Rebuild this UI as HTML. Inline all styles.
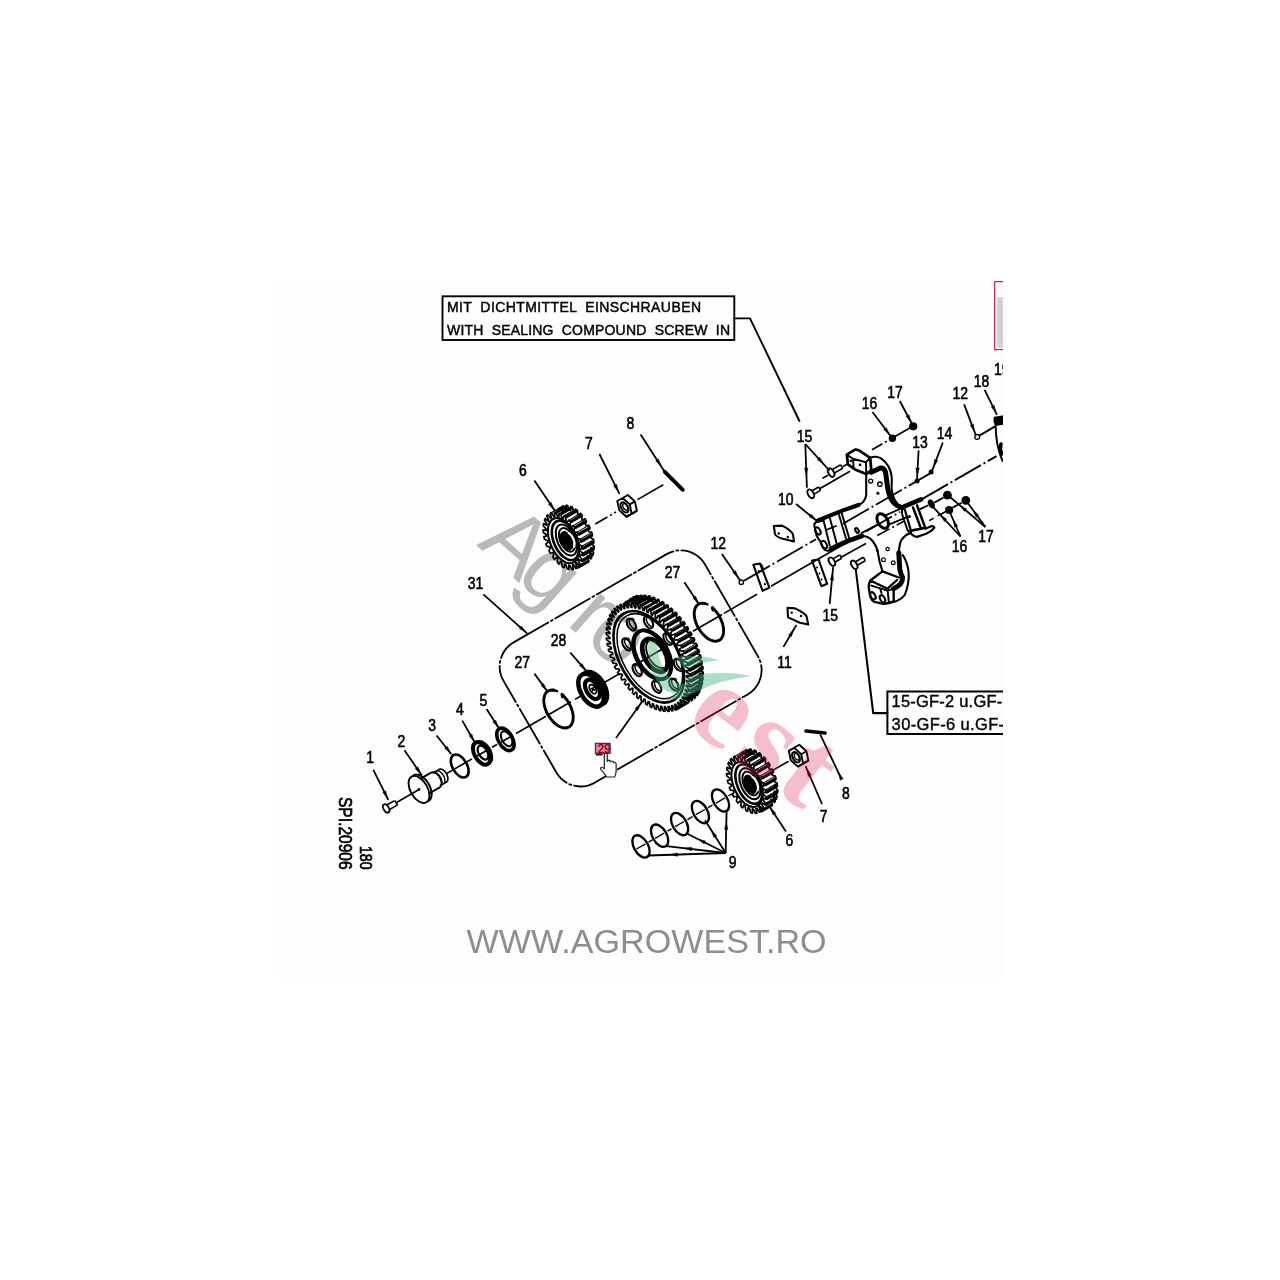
<!DOCTYPE html>
<html><head><meta charset="utf-8"><title>Parts diagram</title>
<style>
html,body{margin:0;padding:0;background:#fff;}
body{width:1280px;height:1280px;overflow:hidden;position:relative;font-family:"Liberation Sans",sans-serif;}
#img{position:absolute;left:278.5px;top:281px;width:724.5px;height:695.5px;background:#fdfdfe;overflow:hidden;}
svg{position:absolute;left:-278.5px;top:-281px;font-family:"Liberation Sans",sans-serif;opacity:0.999;will-change:transform;}
</style></head><body>
<div id="img">
<svg width="1280" height="1280" viewBox="0 0 1280 1280">
<rect x="442.5" y="296.3" width="291.8" height="43.7" fill="none" stroke="#000" stroke-width="1.9"/>
<text x="447" y="312.2" font-size="14" textLength="254" lengthAdjust="spacing" word-spacing="4" fill="#000" stroke="#000" stroke-width="0.45">MIT DICHTMITTEL EINSCHRAUBEN</text>
<text x="447" y="335.2" font-size="14" textLength="283" lengthAdjust="spacing" word-spacing="4" fill="#000" stroke="#000" stroke-width="0.45">WITH SEALING COMPOUND SCREW IN</text>
<path d="M734.3 318.4 L750 318.4 L799.4 421" fill="none" stroke="#000" stroke-width="1.93" stroke-linejoin="round" stroke-linecap="round" />
<rect x="997.2" y="297" width="8" height="50.7" fill="#d2d2d2"/>
<rect x="994.6" y="281.6" width="14" height="68" fill="none" stroke="#c22a4e" stroke-width="1.3"/>
<path d="M1006 691.4 L887.4 691.4 L887.4 734 L1006 734" fill="none" stroke="#000" stroke-width="2.0"/>
<text x="891.6" y="707.3" font-size="16.5" textLength="120" lengthAdjust="spacing" fill="#000" stroke="#000" stroke-width="0.4">15-GF-2 u.GF-2</text>
<text x="891.6" y="730.2" font-size="16.5" textLength="122" lengthAdjust="spacing" fill="#000" stroke="#000" stroke-width="0.4">30-GF-6 u.GF-6</text>
<path d="M855.8 569.5 L873.2 713.1 L887.4 713.1" fill="none" stroke="#000" stroke-width="2.07" stroke-linejoin="round" stroke-linecap="round" />
<text transform="translate(338.9 869.6) rotate(90)" x="0" y="0" font-size="19" text-anchor="end" textLength="72.6" lengthAdjust="spacingAndGlyphs" fill="#000" stroke="#000" stroke-width="0.7">SPI.20906</text>
<text transform="translate(360.4 869.6) rotate(90)" x="0" y="0" font-size="16.6" text-anchor="end" textLength="23.6" lengthAdjust="spacingAndGlyphs" fill="#000" stroke="#000" stroke-width="0.7">180</text>
<text x="466.6" y="953.0" font-size="34" textLength="360" lengthAdjust="spacingAndGlyphs" fill="#8e8e8e">WWW.AGROWEST.RO</text>
<path d="M513.6 642.4 L666.7 554.1 A28 28 0 0 1 704.9 564.3 L757.9 656.2 A28 28 0 0 1 747.7 694.4 L594.6 782.7 A28 28 0 0 1 556.4 772.5 L503.4 680.6 A28 28 0 0 1 513.6 642.4" fill="none" stroke="#000" stroke-width="1.79" stroke-linejoin="round" stroke-linecap="round" stroke-dasharray="40 3 2 3" />
<line x1="397.0" y1="802.2" x2="419.0" y2="789.5" stroke="#000" stroke-width="1.66" stroke-linecap="butt"/>
<line x1="446.0" y1="773.9" x2="472.0" y2="758.9" stroke="#000" stroke-width="1.66" stroke-linecap="butt"/>
<line x1="477.0" y1="756.0" x2="487.0" y2="750.2" stroke="#000" stroke-width="1.66" stroke-linecap="butt"/>
<line x1="492.0" y1="747.3" x2="497.0" y2="744.5" stroke="#000" stroke-width="1.66" stroke-linecap="butt"/>
<line x1="501.0" y1="742.2" x2="510.0" y2="737.0" stroke="#000" stroke-width="1.66" stroke-linecap="butt"/>
<line x1="516.0" y1="733.5" x2="546.0" y2="716.2" stroke="#000" stroke-width="1.66" stroke-linecap="butt"/>
<line x1="548.0" y1="715.0" x2="571.0" y2="701.7" stroke="#000" stroke-width="1.66" stroke-linecap="butt"/>
<line x1="575.0" y1="699.4" x2="580.0" y2="696.5" stroke="#000" stroke-width="1.66" stroke-linecap="butt"/>
<line x1="603.0" y1="683.3" x2="620.0" y2="673.4" stroke="#000" stroke-width="1.66" stroke-linecap="butt"/>
<line x1="693.0" y1="631.3" x2="722.0" y2="614.5" stroke="#000" stroke-width="1.66" stroke-linecap="butt"/>
<line x1="724.0" y1="613.4" x2="757.0" y2="594.3" stroke="#000" stroke-width="1.66" stroke-linecap="butt"/>
<line x1="771.0" y1="586.3" x2="826.0" y2="554.5" stroke="#000" stroke-width="1.66" stroke-linecap="butt"/>
<ellipse cx="386.2" cy="808.4" rx="4.60" ry="2.65" transform="rotate(60 386.2 808.4)" fill="none" stroke="#000" stroke-width="1.79" />
<line x1="386.4" y1="805.3" x2="394.6" y2="800.6" stroke="#000" stroke-width="1.66" stroke-linecap="butt"/>
<line x1="389.0" y1="809.9" x2="397.2" y2="805.1" stroke="#000" stroke-width="1.66" stroke-linecap="butt"/>
<line x1="397.6" y1="805.3" x2="395.0" y2="800.7" stroke="#000" stroke-width="1.66" stroke-linecap="butt"/>
<ellipse cx="419.0" cy="789.4" rx="14.80" ry="8.54" transform="rotate(60 419.0 789.4)" fill="none" stroke="#000" stroke-width="1.93" />
<path d="M427.8 801.3 L428.5 801.0 L429.1 800.6 L429.6 800.1 L430.1 799.6 L430.5 798.9 L430.9 798.2 L431.2 797.5 L431.4 796.6 L431.6 795.7 L431.6 794.7 L431.7 793.7 L431.6 792.7 L431.5 791.6 L431.2 790.5 L431.0 789.4 L430.6 788.3 L430.2 787.1 L429.7 786.0 L429.2 784.9 L428.6 783.8 L428.0 782.8 L427.3 781.8 L426.5 780.8 L425.8 779.9 L425.0 779.0 L424.1 778.2 L423.3 777.5 L422.4 776.8 L421.5 776.2 L420.7 775.7 L419.8 775.3 L418.9 775.0 L418.1 774.8 L417.3 774.6 L416.5 774.6 L415.7 774.6 L415.0 774.8 L414.3 775.0 L413.7 775.4 L413.1 775.8" fill="none" stroke="#000" stroke-width="1.93" stroke-linecap="round"/>
<circle cx="419" cy="789.4" r="1.3" fill="#000"/>
<line x1="420.7" y1="778.6" x2="431.1" y2="772.6" stroke="#000" stroke-width="1.79" stroke-linecap="butt"/>
<line x1="429.3" y1="793.4" x2="439.7" y2="787.4" stroke="#000" stroke-width="1.79" stroke-linecap="butt"/>
<path d="M439.7 787.4 L440.0 787.2 L440.3 787.0 L440.6 786.7 L440.8 786.3 L441.0 785.9 L441.2 785.5 L441.3 785.1 L441.4 784.6 L441.5 784.1 L441.5 783.5 L441.5 783.0 L441.4 782.4 L441.3 781.8 L441.2 781.2 L441.0 780.6 L440.8 779.9 L440.6 779.3 L440.3 778.7 L440.0 778.1 L439.7 777.5 L439.3 776.9 L439.0 776.4 L438.6 775.8 L438.2 775.3 L437.7 774.9 L437.3 774.4 L436.8 774.0 L436.3 773.6 L435.9 773.3 L435.4 773.0 L434.9 772.7 L434.4 772.5 L434.0 772.4 L433.5 772.2 L433.1 772.2 L432.6 772.2 L432.2 772.2 L431.8 772.3 L431.4 772.4 L431.1 772.6" fill="none" stroke="#000" stroke-width="1.66" stroke-linecap="round"/>
<path d="M440.3 785.6 L440.6 785.4 L440.9 785.2 L441.1 784.9 L441.3 784.6 L441.5 784.3 L441.6 783.9 L441.7 783.5 L441.8 783.1 L441.8 782.7 L441.9 782.2 L441.8 781.8 L441.8 781.3 L441.7 780.8 L441.6 780.2 L441.5 779.7 L441.3 779.2 L441.1 778.7 L440.9 778.2 L440.6 777.6 L440.3 777.1 L440.0 776.7 L439.7 776.2 L439.4 775.7 L439.0 775.3 L438.7 774.9 L438.3 774.5 L437.9 774.2 L437.5 773.8 L437.1 773.5 L436.7 773.3 L436.3 773.1 L435.9 772.9 L435.5 772.8 L435.1 772.7 L434.7 772.6 L434.3 772.6 L434.0 772.6 L433.7 772.7 L433.3 772.8 L433.0 772.9" fill="none" stroke="#000" stroke-width="1.52" stroke-linecap="round"/>
<line x1="433.0" y1="772.9" x2="439.1" y2="769.4" stroke="#000" stroke-width="1.66" stroke-linecap="butt"/>
<line x1="440.3" y1="785.6" x2="446.4" y2="782.1" stroke="#000" stroke-width="1.66" stroke-linecap="butt"/>
<path d="M443.4 783.8 L443.6 783.6 L443.9 783.4 L444.1 783.2 L444.3 782.9 L444.5 782.5 L444.6 782.2 L444.7 781.8 L444.8 781.4 L444.9 780.9 L444.9 780.5 L444.9 780.0 L444.8 779.5 L444.7 779.0 L444.6 778.5 L444.5 778.0 L444.3 777.5 L444.1 776.9 L443.9 776.4 L443.6 775.9 L443.4 775.4 L443.1 774.9 L442.8 774.4 L442.4 774.0 L442.1 773.5 L441.7 773.1 L441.3 772.8 L440.9 772.4 L440.5 772.1 L440.1 771.8 L439.7 771.5 L439.3 771.3 L438.9 771.1 L438.5 771.0 L438.1 770.9 L437.7 770.9 L437.4 770.8 L437.0 770.9 L436.7 770.9 L436.4 771.0 L436.1 771.2" fill="none" stroke="#000" stroke-width="1.38" stroke-linecap="round"/>
<path d="M445.6 782.4 L446.0 782.3 L446.3 782.1 L446.6 781.9 L446.9 781.7 L447.2 781.4 L447.4 781.0 L447.6 780.7 L447.7 780.2 L447.8 779.8 L447.9 779.3 L447.9 778.8 L447.9 778.3 L447.8 777.7 L447.7 777.1 L447.6 776.6 L447.4 776.0 L447.2 775.4 L447.0 774.8 L446.7 774.2 L446.4 773.6 L446.1 773.1 L445.7 772.6 L445.3 772.1 L444.9 771.6 L444.5 771.1 L444.0 770.7 L443.6 770.4 L443.1 770.0 L442.7 769.8 L442.2 769.5 L441.8 769.3 L441.3 769.2 L440.9 769.1 L440.5 769.1 L440.1 769.1 L439.7 769.2 L439.4 769.3 L439.0 769.5 L438.7 769.7 L438.5 770.0" fill="none" stroke="#000" stroke-width="1.66" stroke-linecap="round"/>
<ellipse cx="459.7" cy="766.0" rx="12.60" ry="7.27" transform="rotate(60 459.7 766.0)" fill="none" stroke="#000" stroke-width="2.62" />
<ellipse cx="481.6" cy="753.4" rx="12.30" ry="7.10" transform="rotate(60 481.6 753.4)" fill="none" stroke="#000" stroke-width="4.00" />
<ellipse cx="483.0" cy="752.6" rx="7.60" ry="4.39" transform="rotate(60 483.0 752.6)" fill="none" stroke="#000" stroke-width="2.21" />
<path d="M490.1 762.6 L490.5 762.3 L490.9 761.9 L491.2 761.4 L491.4 760.9 L491.7 760.3 L491.8 759.7 L492.0 759.1 L492.1 758.4 L492.1 757.7 L492.1 756.9 L492.0 756.1 L491.9 755.4 L491.8 754.6 L491.6 753.7 L491.3 752.9 L491.1 752.1 L490.7 751.3 L490.4 750.5 L490.0 749.6 L489.5 748.9 L489.1 748.1 L488.6 747.3 L488.1 746.6 L487.5 745.9 L486.9 745.3 L486.3 744.6 L485.7 744.1 L485.1 743.5 L484.5 743.1 L483.8 742.6 L483.2 742.2 L482.6 741.9 L481.9 741.7 L481.3 741.4 L480.7 741.3 L480.1 741.2 L479.5 741.2 L478.9 741.2 L478.4 741.3 L477.9 741.4" fill="none" stroke="#000" stroke-width="2.21" stroke-linecap="round"/>
<ellipse cx="505.4" cy="739.4" rx="12.30" ry="7.10" transform="rotate(60 505.4 739.4)" fill="none" stroke="#000" stroke-width="3.59" />
<ellipse cx="506.6" cy="738.7" rx="8.20" ry="4.73" transform="rotate(60 506.6 738.7)" fill="none" stroke="#000" stroke-width="2.07" />
<path d="M554.0 690.2 L552.0 690.0 L550.2 690.2 L548.5 690.8 L547.1 691.7 L545.9 693.0 L544.9 694.6 L544.3 696.5 L543.9 698.7 L543.8 701.0 L544.0 703.6 L544.5 706.2 L545.3 708.9 L546.4 711.7 L547.7 714.3 L549.3 716.9 L551.0 719.2 L552.9 721.4 L554.8 723.3 L556.9 725.0 L559.0 726.3 L561.1 727.2 L563.1 727.8 L565.1 728.0 L566.9 727.8 L568.5 727.2 L570.0 726.3 L571.2 725.0 L572.1 723.3 L572.8 721.4 L573.1 719.2 L573.2 716.8 L573.0 714.3 L572.4 711.6 L571.6 708.9 L570.5 706.2 L569.2 703.6 L567.7 701.0 L565.9 698.7 L564.1 696.5 L562.1 694.6" fill="none" stroke="#000" stroke-width="2.90" stroke-linecap="round"/>
<line x1="553.6" y1="689.9" x2="557.0" y2="691.2" stroke="#000" stroke-width="2.48" stroke-linecap="round"/>
<line x1="562.1" y1="694.6" x2="562.6" y2="696.8" stroke="#000" stroke-width="3.04" stroke-linecap="round"/>
<path d="M704.4 603.4 L702.4 603.2 L700.6 603.4 L698.9 604.0 L697.5 604.9 L696.3 606.2 L695.3 607.8 L694.7 609.7 L694.3 611.9 L694.2 614.2 L694.4 616.8 L694.9 619.4 L695.7 622.1 L696.8 624.9 L698.1 627.5 L699.7 630.1 L701.4 632.4 L703.3 634.6 L705.2 636.5 L707.3 638.2 L709.4 639.5 L711.5 640.4 L713.5 641.0 L715.5 641.2 L717.3 641.0 L718.9 640.4 L720.4 639.5 L721.6 638.2 L722.5 636.5 L723.2 634.6 L723.5 632.4 L723.6 630.0 L723.4 627.5 L722.8 624.8 L722.0 622.1 L720.9 619.4 L719.6 616.8 L718.1 614.2 L716.3 611.9 L714.5 609.7 L712.5 607.8" fill="none" stroke="#000" stroke-width="2.90" stroke-linecap="round"/>
<line x1="704.0" y1="603.1" x2="707.4" y2="604.4" stroke="#000" stroke-width="2.48" stroke-linecap="round"/>
<line x1="712.5" y1="607.8" x2="713.0" y2="610.0" stroke="#000" stroke-width="3.04" stroke-linecap="round"/>
<ellipse cx="591.0" cy="690.2" rx="18.00" ry="10.39" transform="rotate(60 591.0 690.2)" fill="none" stroke="#000" stroke-width="4.42" />
<path d="M601.7 704.6 L602.6 704.3 L603.5 704.0 L604.3 703.5 L605.0 702.9 L605.6 702.1 L606.2 701.3 L606.6 700.4 L607.0 699.3 L607.2 698.2 L607.4 697.0 L607.5 695.7 L607.4 694.4 L607.3 693.0 L607.1 691.6 L606.7 690.1 L606.3 688.6 L605.8 687.2 L605.2 685.7 L604.5 684.3 L603.7 682.8 L602.9 681.5 L601.9 680.2 L601.0 678.9 L600.0 677.7 L598.9 676.6 L597.8 675.6 L596.7 674.7 L595.6 673.9 L594.4 673.2 L593.3 672.6 L592.2 672.1 L591.1 671.8 L590.0 671.6 L589.0 671.5 L588.0 671.5 L587.0 671.7 L586.1 672.0 L585.3 672.5 L584.5 673.0 L583.9 673.7" fill="none" stroke="#000" stroke-width="3.59" stroke-linecap="round"/>
<path d="M601.9 704.9 L602.6 704.4 L603.2 703.8 L603.8 703.2 L604.3 702.5 L604.7 701.7 L605.0 700.8 L605.3 699.8 L605.5 698.8 L605.6 697.7 L605.7 696.5 L605.6 695.3 L605.5 694.1 L605.3 692.9 L605.0 691.6 L604.7 690.3 L604.3 689.0 L603.8 687.7 L603.2 686.4 L602.6 685.1 L601.9 683.8 L601.2 682.6 L600.4 681.4 L599.5 680.3 L598.6 679.2 L597.7 678.2 L596.8 677.3 L595.8 676.4 L594.8 675.6 L593.8 674.9 L592.8 674.2 L591.8 673.7 L590.8 673.3 L589.8 672.9 L588.8 672.7 L587.9 672.5 L587.0 672.5 L586.1 672.5 L585.2 672.7 L584.4 673.0 L583.7 673.3" fill="none" stroke="#000" stroke-width="2.21" stroke-linecap="round"/>
<ellipse cx="592.4" cy="689.4" rx="10.60" ry="6.12" transform="rotate(60 592.4 689.4)" fill="none" stroke="#000" stroke-width="4.14" />
<ellipse cx="592.8" cy="689.2" rx="5.00" ry="2.88" transform="rotate(60 592.8 689.2)" fill="none" stroke="#000" stroke-width="1.79" />
<line x1="590.6" y1="688.2" x2="595.0" y2="690.2" stroke="#000" stroke-width="1.66" stroke-linecap="butt"/>
<line x1="593.4" y1="687.0" x2="592.2" y2="691.6" stroke="#000" stroke-width="1.66" stroke-linecap="butt"/>
<path d="M688.2 702.3 L689.4 701.8 L687.6 697.1 L688.4 696.7 L691.5 700.7 L692.6 699.9 L690.5 695.3 L691.2 694.7 L694.5 698.4 L695.4 697.5 L693.0 692.9 L693.6 692.2 L697.1 695.5 L697.9 694.4 L695.2 690.0 L695.6 689.2 L699.2 692.2 L699.9 690.9 L696.9 686.7 L697.3 685.8 L700.9 688.3 L701.4 686.8 L698.2 682.9 L698.5 681.9 L702.2 683.9 L702.5 682.3 L699.1 678.7 L699.3 677.6 L702.9 679.2 L703.1 677.5 L699.6 674.2 L699.6 673.0 L703.2 674.1 L703.2 672.3 L699.6 669.4 L699.5 668.1 L703.0 668.7 L702.8 666.8 L699.1 664.3 L699.0 663.0 L702.2 663.2 L701.9 661.2 L698.2 659.1 L697.9 657.8 L701.0 657.4 L700.5 655.4 L696.9 653.8 L696.5 652.5 L699.4 651.5 L698.7 649.5 L695.2 648.4 L694.7 647.1 L697.3 645.7 L696.4 643.6 L693.0 643.1 L692.4 641.7 L694.7 639.9 L693.8 637.8 L690.5 637.8 L689.8 636.5 L691.8 634.1 L690.7 632.2 L687.6 632.6 L686.9 631.4 L688.5 628.6 L687.3 626.7 L684.5 627.7 L683.6 626.5 L684.9 623.3 L683.6 621.6 L681.0 623.0 L680.1 621.9 L681.0 618.4 L679.6 616.7 L677.3 618.6 L676.4 617.6 L676.9 613.7 L675.4 612.2 L673.5 614.6 L672.5 613.7 L672.6 609.6 L671.1 608.2 L669.4 611.0 L668.4 610.2 L668.2 605.8 L666.6 604.7 L665.3 607.9 L664.3 607.1 L663.7 602.6 L662.1 601.6 L661.2 605.2 L660.1 604.6 L659.1 600.0 L657.5 599.2 L657.0 603.0 L656.0 602.6 L654.6 597.9 L653.0 597.3 L652.9 601.5 L651.9 601.1 L650.2 596.4 L648.6 596.1 L648.9 600.4 L647.9 600.3 L645.8 595.6 L644.4 595.5 L645.0 600.0 L644.1 599.9 L641.7 595.4 L640.3 595.5 L641.4 600.1 L640.5 600.2 L637.8 595.8 L636.5 596.1 L637.9 600.8 L637.1 601.1 L634.2 596.9 L633.0 597.4 L634.7 602.1 L634.0 602.5 L630.9 598.5 L629.8 599.3 L631.9 603.9" fill="none" stroke="#000" stroke-width="1.72" stroke-linejoin="round" stroke-linecap="round" />
<line x1="675.2" y1="709.8" x2="688.2" y2="702.3" stroke="#000" stroke-width="2.97" stroke-linecap="butt"/>
<line x1="684.9" y1="701.9" x2="697.9" y2="694.4" stroke="#000" stroke-width="1.03" stroke-linecap="butt"/>
<line x1="686.2" y1="699.7" x2="699.2" y2="692.2" stroke="#000" stroke-width="2.97" stroke-linecap="butt"/>
<line x1="687.9" y1="695.8" x2="700.9" y2="688.3" stroke="#000" stroke-width="2.97" stroke-linecap="butt"/>
<line x1="689.2" y1="691.4" x2="702.2" y2="683.9" stroke="#000" stroke-width="2.97" stroke-linecap="butt"/>
<line x1="689.9" y1="686.7" x2="702.9" y2="679.2" stroke="#000" stroke-width="2.97" stroke-linecap="butt"/>
<line x1="690.2" y1="681.6" x2="703.2" y2="674.1" stroke="#000" stroke-width="2.97" stroke-linecap="butt"/>
<line x1="690.2" y1="679.8" x2="703.2" y2="672.3" stroke="#000" stroke-width="1.03" stroke-linecap="butt"/>
<line x1="690.0" y1="676.2" x2="703.0" y2="668.7" stroke="#000" stroke-width="2.97" stroke-linecap="butt"/>
<line x1="689.8" y1="674.3" x2="702.8" y2="666.8" stroke="#000" stroke-width="1.03" stroke-linecap="butt"/>
<line x1="689.3" y1="670.7" x2="702.2" y2="663.2" stroke="#000" stroke-width="2.97" stroke-linecap="butt"/>
<line x1="688.9" y1="668.7" x2="701.9" y2="661.2" stroke="#000" stroke-width="1.03" stroke-linecap="butt"/>
<line x1="688.1" y1="664.9" x2="701.0" y2="657.4" stroke="#000" stroke-width="2.97" stroke-linecap="butt"/>
<line x1="687.5" y1="662.9" x2="700.5" y2="655.4" stroke="#000" stroke-width="1.03" stroke-linecap="butt"/>
<line x1="686.4" y1="659.0" x2="699.4" y2="651.5" stroke="#000" stroke-width="2.97" stroke-linecap="butt"/>
<line x1="685.7" y1="657.0" x2="698.7" y2="649.5" stroke="#000" stroke-width="1.03" stroke-linecap="butt"/>
<line x1="684.3" y1="653.2" x2="697.3" y2="645.7" stroke="#000" stroke-width="2.97" stroke-linecap="butt"/>
<line x1="683.4" y1="651.1" x2="696.4" y2="643.6" stroke="#000" stroke-width="1.03" stroke-linecap="butt"/>
<line x1="681.8" y1="647.4" x2="694.7" y2="639.9" stroke="#000" stroke-width="2.97" stroke-linecap="butt"/>
<line x1="680.8" y1="645.3" x2="693.8" y2="637.8" stroke="#000" stroke-width="1.03" stroke-linecap="butt"/>
<line x1="678.8" y1="641.6" x2="691.8" y2="634.1" stroke="#000" stroke-width="2.97" stroke-linecap="butt"/>
<line x1="677.7" y1="639.7" x2="690.7" y2="632.2" stroke="#000" stroke-width="1.03" stroke-linecap="butt"/>
<line x1="675.5" y1="636.1" x2="688.5" y2="628.6" stroke="#000" stroke-width="2.97" stroke-linecap="butt"/>
<line x1="674.3" y1="634.2" x2="687.3" y2="626.7" stroke="#000" stroke-width="1.03" stroke-linecap="butt"/>
<line x1="671.9" y1="630.8" x2="684.9" y2="623.3" stroke="#000" stroke-width="2.97" stroke-linecap="butt"/>
<line x1="670.6" y1="629.1" x2="683.6" y2="621.6" stroke="#000" stroke-width="1.03" stroke-linecap="butt"/>
<line x1="668.1" y1="625.9" x2="681.0" y2="618.4" stroke="#000" stroke-width="2.97" stroke-linecap="butt"/>
<line x1="666.6" y1="624.2" x2="679.6" y2="616.7" stroke="#000" stroke-width="1.03" stroke-linecap="butt"/>
<line x1="663.9" y1="621.2" x2="676.9" y2="613.7" stroke="#000" stroke-width="2.97" stroke-linecap="butt"/>
<line x1="662.5" y1="619.7" x2="675.4" y2="612.2" stroke="#000" stroke-width="1.03" stroke-linecap="butt"/>
<line x1="659.6" y1="617.1" x2="672.6" y2="609.6" stroke="#000" stroke-width="2.97" stroke-linecap="butt"/>
<line x1="658.1" y1="615.7" x2="671.1" y2="608.2" stroke="#000" stroke-width="1.03" stroke-linecap="butt"/>
<line x1="655.2" y1="613.3" x2="668.2" y2="605.8" stroke="#000" stroke-width="2.97" stroke-linecap="butt"/>
<line x1="653.6" y1="612.2" x2="666.6" y2="604.7" stroke="#000" stroke-width="1.03" stroke-linecap="butt"/>
<line x1="650.7" y1="610.1" x2="663.7" y2="602.6" stroke="#000" stroke-width="2.97" stroke-linecap="butt"/>
<line x1="649.1" y1="609.1" x2="662.1" y2="601.6" stroke="#000" stroke-width="1.03" stroke-linecap="butt"/>
<line x1="646.1" y1="607.5" x2="659.1" y2="600.0" stroke="#000" stroke-width="2.97" stroke-linecap="butt"/>
<line x1="641.6" y1="605.4" x2="654.6" y2="597.9" stroke="#000" stroke-width="2.97" stroke-linecap="butt"/>
<line x1="637.2" y1="603.9" x2="650.2" y2="596.4" stroke="#000" stroke-width="2.97" stroke-linecap="butt"/>
<line x1="632.9" y1="603.1" x2="645.8" y2="595.6" stroke="#000" stroke-width="2.97" stroke-linecap="butt"/>
<line x1="627.3" y1="603.0" x2="640.3" y2="595.5" stroke="#000" stroke-width="1.03" stroke-linecap="butt"/>
<line x1="624.8" y1="603.3" x2="637.8" y2="595.8" stroke="#000" stroke-width="2.97" stroke-linecap="butt"/>
<path d="M675.4 704.2 L678.5 708.2 L679.6 707.4 L677.5 702.8 L678.2 702.2 L681.5 705.9 L682.4 705.0 L680.0 700.4 L680.6 699.7 L684.1 703.0 L684.9 701.9 L682.2 697.5 L682.7 696.7 L686.2 699.7 L686.9 698.4 L683.9 694.2 L684.3 693.3 L687.9 695.8 L688.4 694.3 L685.3 690.4 L685.5 689.4 L689.2 691.4 L689.5 689.8 L686.2 686.2 L686.3 685.1 L689.9 686.7 L690.1 685.0 L686.6 681.7 L686.6 680.5 L690.2 681.6 L690.2 679.8 L686.6 676.9 L686.5 675.6 L690.0 676.2 L689.8 674.3 L686.1 671.8 L686.0 670.5 L689.3 670.7 L688.9 668.7 L685.3 666.6 L685.0 665.3 L688.1 664.9 L687.5 662.9 L683.9 661.3 L683.5 660.0 L686.4 659.0 L685.7 657.0 L682.2 655.9 L681.7 654.6 L684.3 653.2 L683.4 651.1 L680.0 650.6 L679.4 649.2 L681.8 647.4 L680.8 645.3 L677.5 645.3 L676.8 644.0 L678.8 641.6 L677.7 639.7 L674.6 640.1 L673.9 638.9 L675.5 636.1 L674.3 634.2 L671.5 635.2 L670.6 634.0 L671.9 630.8 L670.6 629.1 L668.0 630.5 L667.1 629.4 L668.1 625.9 L666.6 624.2 L664.3 626.1 L663.4 625.1 L663.9 621.2 L662.5 619.7 L660.5 622.1 L659.5 621.2 L659.6 617.1 L658.1 615.7 L656.5 618.5 L655.4 617.7 L655.2 613.3 L653.6 612.2 L652.3 615.4 L651.3 614.6 L650.7 610.1 L649.1 609.1 L648.2 612.7 L647.1 612.1 L646.1 607.5 L644.6 606.7 L644.0 610.5 L643.0 610.1 L641.6 605.4 L640.1 604.8 L639.9 609.0 L638.9 608.6 L637.2 603.9 L635.6 603.6 L635.9 607.9 L634.9 607.8 L632.9 603.1 L631.4 603.0 L632.0 607.5 L631.1 607.4 L628.7 602.9 L627.3 603.0 L628.4 607.6 L627.5 607.7 L624.8 603.3 L623.5 603.6 L624.9 608.3 L624.1 608.6 L621.2 604.4 L620.0 604.9 L621.7 609.6 L621.0 610.0 L617.9 606.0 L616.8 606.8 L618.9 611.4 L618.2 612.0 L614.9 608.3 L614.0 609.2 L616.4 613.8 L615.8 614.5 L612.3 611.2 L611.5 612.3 L614.2 616.7 L613.7 617.5 L610.2 614.5 L609.5 615.8 L612.5 620.0 L612.1 620.9 L608.5 618.4 L608.0 619.9 L611.1 623.8 L610.9 624.8 L607.2 622.8 L606.9 624.4 L610.2 628.0 L610.1 629.1 L606.5 627.5 L606.3 629.2 L609.8 632.5 L609.8 633.7 L606.2 632.6 L606.2 634.4 L609.8 637.3 L609.9 638.6 L606.4 638.0 L606.6 639.9 L610.3 642.4 L610.4 643.7 L607.1 643.5 L607.5 645.5 L611.1 647.6 L611.4 648.9 L608.3 649.3 L608.9 651.3 L612.5 652.9 L612.9 654.2 L610.0 655.2 L610.7 657.2 L614.2 658.3 L614.7 659.6 L612.1 661.0 L613.0 663.1 L616.4 663.6 L617.0 665.0 L614.6 666.8 L615.6 668.9 L618.9 668.9 L619.6 670.2 L617.6 672.6 L618.7 674.5 L621.8 674.1 L622.5 675.3 L620.9 678.1 L622.1 680.0 L624.9 679.0 L625.8 680.2 L624.5 683.4 L625.8 685.1 L628.4 683.7 L629.3 684.8 L628.3 688.3 L629.8 690.0 L632.1 688.1 L633.0 689.1 L632.5 693.0 L633.9 694.5 L635.9 692.1 L636.9 693.0 L636.8 697.1 L638.3 698.5 L639.9 695.7 L641.0 696.5 L641.2 700.9 L642.8 702.0 L644.1 698.8 L645.1 699.6 L645.7 704.1 L647.3 705.1 L648.2 701.5 L649.3 702.1 L650.3 706.7 L651.8 707.5 L652.4 703.7 L653.4 704.1 L654.8 708.8 L656.3 709.4 L656.5 705.2 L657.5 705.6 L659.2 710.3 L660.8 710.6 L660.5 706.3 L661.5 706.4 L663.5 711.1 L665.0 711.2 L664.4 706.7 L665.3 706.8 L667.7 711.3 L669.1 711.2 L668.0 706.6 L668.9 706.5 L671.6 710.9 L672.9 710.6 L671.5 705.9 L672.3 705.6 L675.2 709.8 L676.4 709.3 L674.7 704.6 Z" fill="none" stroke="#000" stroke-width="1.72" stroke-linejoin="round" stroke-linecap="round" />
<ellipse cx="648.8" cy="656.8" rx="50.00" ry="28.85" transform="rotate(60 648.8 656.8)" fill="none" stroke="#000" stroke-width="2.62" />
<ellipse cx="649.8" cy="656.2" rx="46.50" ry="26.83" transform="rotate(60 649.8 656.2)" fill="none" stroke="#000" stroke-width="1.52" />
<ellipse cx="673.8" cy="684.6" rx="6.60" ry="3.81" transform="rotate(60 673.8 684.6)" fill="none" stroke="#000" stroke-width="2.07" />
<path d="M676.2 679.4 L675.8 679.1 L675.4 678.9 L675.0 678.7 L674.6 678.6 L674.3 678.5 L673.9 678.5 L673.6 678.5 L673.2 678.5 L672.9 678.6 L672.7 678.8 L672.4 679.0 L672.2 679.2 L672.0 679.5 L671.9 679.9 L671.7 680.2 L671.7 680.6 L671.6 681.0 L671.6 681.5 L671.6 681.9 L671.7 682.4 L671.8 682.9 L672.0 683.4 L672.1 683.9 L672.4 684.4 L672.6 684.9 L672.9 685.4 L673.2 685.8 L673.5 686.3 L673.8 686.7 L674.2 687.1 L674.6 687.4 L674.9 687.7 L675.3 688.0 L675.7 688.2 L676.1 688.4 L676.5 688.6 L676.9 688.6 L677.2 688.7 L677.6 688.7 L677.9 688.6" fill="none" stroke="#000" stroke-width="1.52" stroke-linecap="round"/>
<ellipse cx="678.4" cy="664.8" rx="6.60" ry="3.81" transform="rotate(60 678.4 664.8)" fill="none" stroke="#000" stroke-width="2.07" />
<path d="M680.8 659.6 L680.5 659.4 L680.1 659.1 L679.7 659.0 L679.3 658.8 L678.9 658.7 L678.6 658.7 L678.2 658.7 L677.9 658.8 L677.6 658.9 L677.3 659.0 L677.1 659.2 L676.9 659.5 L676.7 659.7 L676.5 660.1 L676.4 660.4 L676.3 660.8 L676.3 661.2 L676.3 661.7 L676.3 662.2 L676.4 662.6 L676.5 663.1 L676.6 663.6 L676.8 664.1 L677.0 664.6 L677.3 665.1 L677.5 665.6 L677.8 666.1 L678.2 666.5 L678.5 666.9 L678.9 667.3 L679.2 667.6 L679.6 668.0 L680.0 668.2 L680.4 668.5 L680.8 668.6 L681.2 668.8 L681.5 668.9 L681.9 668.9 L682.2 668.9 L682.6 668.8" fill="none" stroke="#000" stroke-width="1.52" stroke-linecap="round"/>
<ellipse cx="668.0" cy="639.0" rx="6.60" ry="3.81" transform="rotate(60 668.0 639.0)" fill="none" stroke="#000" stroke-width="2.07" />
<path d="M670.4 633.9 L670.0 633.6 L669.6 633.4 L669.2 633.2 L668.8 633.1 L668.5 633.0 L668.1 632.9 L667.8 632.9 L667.4 633.0 L667.1 633.1 L666.9 633.3 L666.6 633.5 L666.4 633.7 L666.2 634.0 L666.1 634.3 L665.9 634.7 L665.9 635.1 L665.8 635.5 L665.8 635.9 L665.8 636.4 L665.9 636.9 L666.0 637.4 L666.2 637.9 L666.4 638.4 L666.6 638.9 L666.8 639.4 L667.1 639.8 L667.4 640.3 L667.7 640.7 L668.0 641.2 L668.4 641.5 L668.8 641.9 L669.1 642.2 L669.5 642.5 L669.9 642.7 L670.3 642.9 L670.7 643.0 L671.1 643.1 L671.4 643.2 L671.8 643.1 L672.1 643.1" fill="none" stroke="#000" stroke-width="1.52" stroke-linecap="round"/>
<ellipse cx="648.5" cy="622.4" rx="6.60" ry="3.81" transform="rotate(60 648.5 622.4)" fill="none" stroke="#000" stroke-width="2.07" />
<path d="M650.9 617.2 L650.5 617.0 L650.1 616.7 L649.8 616.6 L649.4 616.4 L649.0 616.3 L648.6 616.3 L648.3 616.3 L648.0 616.4 L647.7 616.5 L647.4 616.6 L647.1 616.8 L646.9 617.1 L646.7 617.3 L646.6 617.7 L646.5 618.0 L646.4 618.4 L646.3 618.9 L646.3 619.3 L646.4 619.8 L646.5 620.2 L646.6 620.7 L646.7 621.2 L646.9 621.7 L647.1 622.2 L647.3 622.7 L647.6 623.2 L647.9 623.7 L648.2 624.1 L648.6 624.5 L648.9 624.9 L649.3 625.2 L649.7 625.6 L650.1 625.8 L650.5 626.1 L650.8 626.2 L651.2 626.4 L651.6 626.5 L652.0 626.5 L652.3 626.5 L652.6 626.4" fill="none" stroke="#000" stroke-width="1.52" stroke-linecap="round"/>
<ellipse cx="631.4" cy="624.6" rx="6.60" ry="3.81" transform="rotate(60 631.4 624.6)" fill="none" stroke="#000" stroke-width="2.07" />
<path d="M633.9 619.5 L633.5 619.2 L633.1 619.0 L632.7 618.8 L632.3 618.6 L631.9 618.6 L631.6 618.5 L631.2 618.5 L630.9 618.6 L630.6 618.7 L630.3 618.8 L630.1 619.0 L629.9 619.3 L629.7 619.6 L629.5 619.9 L629.4 620.3 L629.3 620.6 L629.3 621.1 L629.3 621.5 L629.3 622.0 L629.4 622.5 L629.5 623.0 L629.6 623.5 L629.8 624.0 L630.0 624.5 L630.3 624.9 L630.5 625.4 L630.8 625.9 L631.2 626.3 L631.5 626.7 L631.9 627.1 L632.2 627.5 L632.6 627.8 L633.0 628.1 L633.4 628.3 L633.8 628.5 L634.2 628.6 L634.5 628.7 L634.9 628.7 L635.2 628.7 L635.6 628.7" fill="none" stroke="#000" stroke-width="1.52" stroke-linecap="round"/>
<ellipse cx="626.8" cy="644.4" rx="6.60" ry="3.81" transform="rotate(60 626.8 644.4)" fill="none" stroke="#000" stroke-width="2.07" />
<path d="M629.2 639.2 L628.8 639.0 L628.4 638.7 L628.0 638.6 L627.6 638.4 L627.3 638.3 L626.9 638.3 L626.6 638.3 L626.2 638.4 L625.9 638.5 L625.7 638.6 L625.4 638.8 L625.2 639.1 L625.0 639.3 L624.9 639.7 L624.7 640.0 L624.7 640.4 L624.6 640.8 L624.6 641.3 L624.6 641.8 L624.7 642.2 L624.8 642.7 L625.0 643.2 L625.2 643.7 L625.4 644.2 L625.6 644.7 L625.9 645.2 L626.2 645.7 L626.5 646.1 L626.8 646.5 L627.2 646.9 L627.6 647.2 L628.0 647.6 L628.3 647.8 L628.7 648.1 L629.1 648.2 L629.5 648.4 L629.9 648.5 L630.2 648.5 L630.6 648.5 L630.9 648.4" fill="none" stroke="#000" stroke-width="1.52" stroke-linecap="round"/>
<ellipse cx="637.2" cy="670.2" rx="6.60" ry="3.81" transform="rotate(60 637.2 670.2)" fill="none" stroke="#000" stroke-width="2.07" />
<path d="M639.7 665.0 L639.3 664.7 L638.9 664.5 L638.5 664.3 L638.1 664.2 L637.7 664.1 L637.4 664.0 L637.0 664.1 L636.7 664.1 L636.4 664.2 L636.1 664.4 L635.9 664.6 L635.7 664.8 L635.5 665.1 L635.3 665.4 L635.2 665.8 L635.1 666.2 L635.1 666.6 L635.1 667.1 L635.1 667.5 L635.2 668.0 L635.3 668.5 L635.4 669.0 L635.6 669.5 L635.8 670.0 L636.1 670.5 L636.3 671.0 L636.6 671.4 L637.0 671.9 L637.3 672.3 L637.7 672.7 L638.0 673.0 L638.4 673.3 L638.8 673.6 L639.2 673.8 L639.6 674.0 L640.0 674.1 L640.3 674.2 L640.7 674.3 L641.0 674.3 L641.4 674.2" fill="none" stroke="#000" stroke-width="1.52" stroke-linecap="round"/>
<ellipse cx="656.7" cy="686.8" rx="6.60" ry="3.81" transform="rotate(60 656.7 686.8)" fill="none" stroke="#000" stroke-width="2.07" />
<path d="M659.1 681.6 L658.7 681.4 L658.3 681.1 L658.0 681.0 L657.6 680.8 L657.2 680.7 L656.8 680.7 L656.5 680.7 L656.2 680.8 L655.9 680.9 L655.6 681.0 L655.3 681.2 L655.1 681.5 L654.9 681.7 L654.8 682.1 L654.7 682.4 L654.6 682.8 L654.5 683.2 L654.5 683.7 L654.6 684.2 L654.7 684.6 L654.8 685.1 L654.9 685.6 L655.1 686.1 L655.3 686.6 L655.5 687.1 L655.8 687.6 L656.1 688.1 L656.4 688.5 L656.8 688.9 L657.1 689.3 L657.5 689.6 L657.9 690.0 L658.3 690.2 L658.7 690.5 L659.0 690.6 L659.4 690.8 L659.8 690.9 L660.2 690.9 L660.5 690.9 L660.8 690.8" fill="none" stroke="#000" stroke-width="1.52" stroke-linecap="round"/>
<ellipse cx="652.5" cy="654.7" rx="26.80" ry="15.46" transform="rotate(60 652.5 654.7)" fill="none" stroke="#000" stroke-width="3.86" />
<ellipse cx="650.9" cy="655.6" rx="26.80" ry="15.46" transform="rotate(60 650.9 655.6)" fill="none" stroke="#000" stroke-width="1.66" />
<ellipse cx="654.9" cy="655.3" rx="18.00" ry="10.39" transform="rotate(60 654.9 655.3)" fill="none" stroke="#000" stroke-width="4.69" />
<path d="M649.4 640.5 L648.8 640.8 L648.3 641.3 L647.8 641.8 L647.4 642.4 L647.1 643.0 L646.8 643.7 L646.5 644.5 L646.3 645.3 L646.2 646.2 L646.2 647.1 L646.2 648.0 L646.2 649.0 L646.3 650.0 L646.5 651.0 L646.7 652.1 L647.0 653.1 L647.4 654.2 L647.8 655.2 L648.3 656.3 L648.8 657.3 L649.3 658.3 L649.9 659.3 L650.6 660.3 L651.2 661.2 L651.9 662.1 L652.7 662.9 L653.4 663.7 L654.2 664.4 L655.0 665.1 L655.8 665.7 L656.6 666.3 L657.4 666.7 L658.3 667.2 L659.1 667.5 L659.9 667.7 L660.7 667.9 L661.4 668.0 L662.2 668.0 L662.9 668.0 L663.5 667.9" fill="none" stroke="#000" stroke-width="1.93" stroke-linecap="round"/>
<line x1="640.0" y1="661.9" x2="668.0" y2="645.7" stroke="#000" stroke-width="1.79" stroke-linecap="butt"/>
<path d="M588.9 560.9 L587.2 556.3 L587.9 555.6 L590.9 558.8 L591.8 557.4 L589.5 553.1 L589.9 552.1 L593.1 554.4 L593.6 552.5 L590.8 548.7 L591.0 547.5 L594.1 548.7 L594.2 546.4 L591.1 543.4 L591.1 542.0 L593.9 542.0 L593.6 539.6 L590.4 537.6 L590.1 536.0 L592.5 534.9 L591.8 532.4 L588.7 531.5 L588.1 530.0 L590.0 527.8 L588.8 525.3 L586.0 525.6 L585.3 524.2 L586.4 521.0 L585.0 518.8 L582.7 520.2 L581.8 519.0 L582.2 515.1 L580.5 513.3 L578.8 515.7 L577.8 514.8 L577.4 510.4 L575.7 509.1 L574.7 512.4 L573.6 511.8 L572.5 507.2 L570.8 506.5 L570.5 510.5 L569.5 510.2 L567.7 505.7 L566.1 505.6 L566.6 510.0 L565.7 510.1 L563.3 506.0 L561.9 506.5 L563.2 511.1 L562.5 511.6 L559.6 508.0 L558.5 509.1" fill="none" stroke="#000" stroke-width="1.72" stroke-linejoin="round" stroke-linecap="round" />
<line x1="577.2" y1="567.7" x2="588.9" y2="560.9" stroke="#000" stroke-width="3.24" stroke-linecap="butt"/>
<line x1="581.4" y1="561.1" x2="593.1" y2="554.4" stroke="#000" stroke-width="3.24" stroke-linecap="butt"/>
<line x1="582.4" y1="555.4" x2="594.1" y2="548.7" stroke="#000" stroke-width="3.24" stroke-linecap="butt"/>
<line x1="582.5" y1="553.2" x2="594.2" y2="546.4" stroke="#000" stroke-width="1.03" stroke-linecap="butt"/>
<line x1="582.2" y1="548.8" x2="593.9" y2="542.0" stroke="#000" stroke-width="3.24" stroke-linecap="butt"/>
<line x1="581.9" y1="546.3" x2="593.6" y2="539.6" stroke="#000" stroke-width="1.03" stroke-linecap="butt"/>
<line x1="580.8" y1="541.7" x2="592.5" y2="534.9" stroke="#000" stroke-width="3.24" stroke-linecap="butt"/>
<line x1="580.1" y1="539.2" x2="591.8" y2="532.4" stroke="#000" stroke-width="1.03" stroke-linecap="butt"/>
<line x1="578.3" y1="534.5" x2="590.0" y2="527.8" stroke="#000" stroke-width="3.24" stroke-linecap="butt"/>
<line x1="577.1" y1="532.1" x2="588.8" y2="525.3" stroke="#000" stroke-width="1.03" stroke-linecap="butt"/>
<line x1="574.8" y1="527.8" x2="586.4" y2="521.0" stroke="#000" stroke-width="3.24" stroke-linecap="butt"/>
<line x1="573.3" y1="525.6" x2="585.0" y2="518.8" stroke="#000" stroke-width="1.03" stroke-linecap="butt"/>
<line x1="570.5" y1="521.9" x2="582.2" y2="515.1" stroke="#000" stroke-width="3.24" stroke-linecap="butt"/>
<line x1="568.9" y1="520.1" x2="580.5" y2="513.3" stroke="#000" stroke-width="1.03" stroke-linecap="butt"/>
<line x1="565.7" y1="517.2" x2="577.4" y2="510.4" stroke="#000" stroke-width="3.24" stroke-linecap="butt"/>
<line x1="564.0" y1="515.8" x2="575.7" y2="509.1" stroke="#000" stroke-width="1.03" stroke-linecap="butt"/>
<line x1="560.8" y1="513.9" x2="572.5" y2="507.2" stroke="#000" stroke-width="3.24" stroke-linecap="butt"/>
<line x1="556.0" y1="512.4" x2="567.7" y2="505.7" stroke="#000" stroke-width="3.24" stroke-linecap="butt"/>
<line x1="550.2" y1="513.2" x2="561.9" y2="506.5" stroke="#000" stroke-width="1.03" stroke-linecap="butt"/>
<path d="M573.3 564.6 L576.0 568.5 L577.2 567.7 L575.5 563.1 L576.2 562.4 L579.2 565.6 L580.1 564.2 L577.8 559.9 L578.2 558.9 L581.4 561.1 L581.9 559.3 L579.1 555.5 L579.3 554.2 L582.4 555.4 L582.5 553.2 L579.5 550.2 L579.4 548.8 L582.2 548.8 L581.9 546.3 L578.7 544.3 L578.4 542.8 L580.8 541.7 L580.1 539.2 L577.0 538.2 L576.4 536.7 L578.3 534.5 L577.1 532.1 L574.3 532.3 L573.6 530.9 L574.8 527.8 L573.3 525.6 L571.0 527.0 L570.1 525.7 L570.5 521.9 L568.9 520.1 L567.1 522.5 L566.1 521.5 L565.7 517.2 L564.0 515.8 L563.0 519.2 L561.9 518.5 L560.8 513.9 L559.1 513.2 L558.8 517.2 L557.8 517.0 L556.0 512.4 L554.4 512.3 L554.9 516.8 L554.0 516.9 L551.6 512.7 L550.2 513.2 L551.5 517.8 L550.8 518.3 L547.9 514.8 L546.8 515.9 L548.8 520.4 L548.3 521.2 L545.2 518.5 L544.5 520.1 L547.0 524.2 L546.7 525.3 L543.5 523.6 L543.2 525.7 L546.2 529.1 L546.1 530.4 L543.1 529.8 L543.2 532.2 L546.4 534.7 L546.6 536.2 L543.9 536.7 L544.5 539.2 L547.6 540.7 L548.1 542.3 L545.9 543.9 L546.9 546.4 L549.8 546.8 L550.5 548.2 L549.0 550.9 L550.3 553.3 L552.9 552.5 L553.7 553.8 L552.9 557.3 L554.4 559.3 L556.5 557.4 L557.5 558.5 L557.5 562.7 L559.1 564.2 L560.5 561.3 L561.6 562.1 L562.3 566.7 L564.1 567.7 L564.7 564.0 L565.8 564.4 L567.3 569.0 L568.9 569.5 L568.8 565.2 L569.7 565.3 L571.9 569.7 L573.4 569.5 L572.5 564.9 Z" fill="none" stroke="#000" stroke-width="1.72" stroke-linejoin="round" stroke-linecap="round" />
<ellipse cx="563.4" cy="540.7" rx="24.00" ry="13.20" transform="rotate(66 563.4 540.7)" fill="none" stroke="#000" stroke-width="2.07" />
<ellipse cx="565.4" cy="540.4" rx="21.00" ry="11.55" transform="rotate(66 565.4 540.4)" fill="none" stroke="#000" stroke-width="2.62" />
<ellipse cx="566.4" cy="540.0" rx="16.50" ry="9.08" transform="rotate(66 566.4 540.0)" fill="none" stroke="#000" stroke-width="2.07" />
<ellipse cx="567.0" cy="539.8" rx="12.60" ry="6.93" transform="rotate(66 567.0 539.8)" fill="none" stroke="#000" stroke-width="1.93" />
<ellipse cx="566.6" cy="540.8" rx="9.60" ry="5.28" transform="rotate(66 566.6 540.8)" fill="#000" stroke="#000" stroke-width="1.38" />
<path d="M574.1 546.7 L574.2 546.4 L574.3 546.2 L574.4 545.8 L574.4 545.5 L574.5 545.2 L574.5 544.8 L574.5 544.5 L574.6 544.1 L574.6 543.7 L574.5 543.4 L574.5 543.0 L574.5 542.6 L574.4 542.2 L574.3 541.8 L574.2 541.4 L574.1 540.9 L574.0 540.5 L573.9 540.1 L573.7 539.7 L573.6 539.3 L573.4 538.9 L573.2 538.5 L573.0 538.1 L572.8 537.7 L572.6 537.3 L572.4 537.0 L572.2 536.6 L572.0 536.2 L571.7 535.9 L571.5 535.6 L571.2 535.2 L570.9 534.9 L570.7 534.7 L570.4 534.4 L570.1 534.1 L569.8 533.9 L569.6 533.7 L569.3 533.5 L569.0 533.3 L568.7 533.1" fill="none" stroke="#fff" stroke-width="2.07" stroke-linecap="round"/>
<path d="M631.7 513.8 L629.7 504.4 L622.6 498.0 L617.3 501.0 L619.3 510.4 L626.4 516.8 Z" fill="none" stroke="#000" stroke-width="1.93" stroke-linejoin="round" stroke-linecap="round" />
<path d="M631.6 513.8 L636.9 510.8 L634.9 501.4 L627.8 495.0" fill="none" stroke="#000" stroke-width="1.93" stroke-linejoin="round" stroke-linecap="round" />
<line x1="626.4" y1="516.8" x2="631.6" y2="513.8" stroke="#000" stroke-width="1.79" stroke-linecap="butt"/>
<line x1="631.7" y1="513.8" x2="636.9" y2="510.8" stroke="#000" stroke-width="1.79" stroke-linecap="butt"/>
<line x1="629.7" y1="504.4" x2="634.9" y2="501.4" stroke="#000" stroke-width="1.79" stroke-linecap="butt"/>
<line x1="622.6" y1="498.0" x2="627.8" y2="495.0" stroke="#000" stroke-width="1.79" stroke-linecap="butt"/>
<ellipse cx="624.5" cy="507.4" rx="5.60" ry="3.23" transform="rotate(60 624.5 507.4)" fill="none" stroke="#000" stroke-width="2.07" />
<ellipse cx="625.3" cy="506.9" rx="3.60" ry="2.08" transform="rotate(60 625.3 506.9)" fill="none" stroke="#000" stroke-width="1.38" />
<line x1="595.3" y1="524.0" x2="616.0" y2="512.0" stroke="#000" stroke-width="1.66" stroke-linecap="butt" stroke-dasharray="14 3 2 3"/>
<line x1="637.5" y1="499.6" x2="663.3" y2="484.7" stroke="#000" stroke-width="1.66" stroke-linecap="butt"/>
<line x1="664.8" y1="471.9" x2="682.8" y2="489.8" stroke="#000" stroke-width="3.86" stroke-linecap="round"/>
<path d="M772.4 804.6 L770.7 800.0 L771.4 799.3 L774.4 802.5 L775.3 801.1 L773.0 796.8 L773.4 795.8 L776.6 798.1 L777.1 796.2 L774.3 792.4 L774.5 791.2 L777.6 792.4 L777.7 790.1 L774.6 787.1 L774.6 785.7 L777.4 785.7 L777.1 783.3 L773.9 781.3 L773.6 779.7 L776.0 778.6 L775.3 776.1 L772.2 775.2 L771.6 773.7 L773.5 771.5 L772.3 769.0 L769.5 769.3 L768.8 767.9 L769.9 764.7 L768.5 762.5 L766.2 763.9 L765.3 762.7 L765.7 758.8 L764.0 757.0 L762.3 759.4 L761.3 758.5 L760.9 754.1 L759.2 752.8 L758.2 756.1 L757.1 755.5 L756.0 750.9 L754.3 750.2 L754.0 754.2 L753.0 753.9 L751.2 749.4 L749.6 749.3 L750.1 753.7 L749.2 753.8 L746.8 749.7 L745.4 750.2 L746.7 754.8 L746.0 755.3 L743.1 751.7 L742.0 752.8" fill="none" stroke="#000" stroke-width="1.72" stroke-linejoin="round" stroke-linecap="round" />
<line x1="760.7" y1="811.4" x2="772.4" y2="804.6" stroke="#000" stroke-width="3.24" stroke-linecap="butt"/>
<line x1="764.9" y1="804.8" x2="776.6" y2="798.1" stroke="#000" stroke-width="3.24" stroke-linecap="butt"/>
<line x1="765.9" y1="799.1" x2="777.6" y2="792.4" stroke="#000" stroke-width="3.24" stroke-linecap="butt"/>
<line x1="766.0" y1="796.9" x2="777.7" y2="790.1" stroke="#000" stroke-width="1.03" stroke-linecap="butt"/>
<line x1="765.7" y1="792.5" x2="777.4" y2="785.7" stroke="#000" stroke-width="3.24" stroke-linecap="butt"/>
<line x1="765.4" y1="790.0" x2="777.1" y2="783.3" stroke="#000" stroke-width="1.03" stroke-linecap="butt"/>
<line x1="764.3" y1="785.4" x2="776.0" y2="778.6" stroke="#000" stroke-width="3.24" stroke-linecap="butt"/>
<line x1="763.6" y1="782.9" x2="775.3" y2="776.1" stroke="#000" stroke-width="1.03" stroke-linecap="butt"/>
<line x1="761.8" y1="778.2" x2="773.5" y2="771.5" stroke="#000" stroke-width="3.24" stroke-linecap="butt"/>
<line x1="760.6" y1="775.8" x2="772.3" y2="769.0" stroke="#000" stroke-width="1.03" stroke-linecap="butt"/>
<line x1="758.3" y1="771.5" x2="769.9" y2="764.7" stroke="#000" stroke-width="3.24" stroke-linecap="butt"/>
<line x1="756.8" y1="769.3" x2="768.5" y2="762.5" stroke="#000" stroke-width="1.03" stroke-linecap="butt"/>
<line x1="754.0" y1="765.6" x2="765.7" y2="758.8" stroke="#000" stroke-width="3.24" stroke-linecap="butt"/>
<line x1="752.4" y1="763.8" x2="764.0" y2="757.0" stroke="#000" stroke-width="1.03" stroke-linecap="butt"/>
<line x1="749.2" y1="760.9" x2="760.9" y2="754.1" stroke="#000" stroke-width="3.24" stroke-linecap="butt"/>
<line x1="747.5" y1="759.5" x2="759.2" y2="752.8" stroke="#000" stroke-width="1.03" stroke-linecap="butt"/>
<line x1="744.3" y1="757.6" x2="756.0" y2="750.9" stroke="#000" stroke-width="3.24" stroke-linecap="butt"/>
<line x1="739.5" y1="756.1" x2="751.2" y2="749.4" stroke="#000" stroke-width="3.24" stroke-linecap="butt"/>
<line x1="733.7" y1="756.9" x2="745.4" y2="750.2" stroke="#000" stroke-width="1.03" stroke-linecap="butt"/>
<path d="M756.8 808.3 L759.5 812.2 L760.7 811.4 L759.0 806.8 L759.7 806.1 L762.7 809.3 L763.6 807.9 L761.3 803.6 L761.7 802.6 L764.9 804.8 L765.4 803.0 L762.6 799.2 L762.8 797.9 L765.9 799.1 L766.0 796.9 L763.0 793.9 L762.9 792.5 L765.7 792.5 L765.4 790.0 L762.2 788.0 L761.9 786.5 L764.3 785.4 L763.6 782.9 L760.5 781.9 L759.9 780.4 L761.8 778.2 L760.6 775.8 L757.8 776.0 L757.1 774.6 L758.3 771.5 L756.8 769.3 L754.5 770.7 L753.6 769.4 L754.0 765.6 L752.4 763.8 L750.6 766.2 L749.6 765.2 L749.2 760.9 L747.5 759.5 L746.5 762.9 L745.4 762.2 L744.3 757.6 L742.6 756.9 L742.3 760.9 L741.3 760.7 L739.5 756.1 L737.9 756.0 L738.4 760.5 L737.5 760.6 L735.1 756.4 L733.7 756.9 L735.0 761.5 L734.3 762.0 L731.4 758.5 L730.3 759.6 L732.3 764.1 L731.8 764.9 L728.7 762.2 L728.0 763.8 L730.5 767.9 L730.2 769.0 L727.0 767.3 L726.7 769.4 L729.7 772.8 L729.6 774.1 L726.6 773.5 L726.7 775.9 L729.9 778.4 L730.1 779.9 L727.4 780.4 L728.0 782.9 L731.1 784.4 L731.6 786.0 L729.4 787.6 L730.4 790.1 L733.3 790.5 L734.0 791.9 L732.5 794.6 L733.8 797.0 L736.4 796.2 L737.2 797.5 L736.4 801.0 L737.9 803.0 L740.0 801.1 L741.0 802.2 L741.0 806.4 L742.6 807.9 L744.0 805.0 L745.1 805.8 L745.8 810.4 L747.6 811.4 L748.2 807.7 L749.3 808.1 L750.8 812.7 L752.4 813.2 L752.3 808.9 L753.2 809.0 L755.4 813.4 L756.9 813.2 L756.0 808.6 Z" fill="none" stroke="#000" stroke-width="1.72" stroke-linejoin="round" stroke-linecap="round" />
<ellipse cx="746.9" cy="784.4" rx="24.00" ry="13.20" transform="rotate(66 746.9 784.4)" fill="none" stroke="#000" stroke-width="2.07" />
<ellipse cx="748.9" cy="784.1" rx="21.00" ry="11.55" transform="rotate(66 748.9 784.1)" fill="none" stroke="#000" stroke-width="2.62" />
<ellipse cx="749.9" cy="783.7" rx="16.50" ry="9.08" transform="rotate(66 749.9 783.7)" fill="none" stroke="#000" stroke-width="2.07" />
<ellipse cx="750.5" cy="783.5" rx="12.60" ry="6.93" transform="rotate(66 750.5 783.5)" fill="none" stroke="#000" stroke-width="1.93" />
<ellipse cx="750.1" cy="784.5" rx="9.60" ry="5.28" transform="rotate(66 750.1 784.5)" fill="#000" stroke="#000" stroke-width="1.38" />
<path d="M757.6 790.4 L757.7 790.1 L757.8 789.9 L757.9 789.5 L757.9 789.2 L758.0 788.9 L758.0 788.5 L758.0 788.2 L758.1 787.8 L758.1 787.4 L758.0 787.1 L758.0 786.7 L758.0 786.3 L757.9 785.9 L757.8 785.5 L757.7 785.1 L757.6 784.6 L757.5 784.2 L757.4 783.8 L757.2 783.4 L757.1 783.0 L756.9 782.6 L756.7 782.2 L756.5 781.8 L756.3 781.4 L756.1 781.0 L755.9 780.7 L755.7 780.3 L755.5 779.9 L755.2 779.6 L755.0 779.3 L754.7 778.9 L754.4 778.6 L754.2 778.4 L753.9 778.1 L753.6 777.8 L753.3 777.6 L753.1 777.4 L752.8 777.2 L752.5 777.0 L752.2 776.8" fill="none" stroke="#fff" stroke-width="2.07" stroke-linecap="round"/>
<path d="M803.2 763.6 L801.2 754.2 L794.1 747.8 L788.8 750.8 L790.8 760.2 L797.9 766.6 Z" fill="none" stroke="#000" stroke-width="1.93" stroke-linejoin="round" stroke-linecap="round" />
<path d="M803.1 763.6 L808.4 760.6 L806.4 751.2 L799.3 744.8" fill="none" stroke="#000" stroke-width="1.93" stroke-linejoin="round" stroke-linecap="round" />
<line x1="797.9" y1="766.6" x2="803.1" y2="763.6" stroke="#000" stroke-width="1.79" stroke-linecap="butt"/>
<line x1="803.2" y1="763.6" x2="808.4" y2="760.6" stroke="#000" stroke-width="1.79" stroke-linecap="butt"/>
<line x1="801.2" y1="754.2" x2="806.4" y2="751.2" stroke="#000" stroke-width="1.79" stroke-linecap="butt"/>
<line x1="794.1" y1="747.8" x2="799.3" y2="744.8" stroke="#000" stroke-width="1.79" stroke-linecap="butt"/>
<ellipse cx="796.0" cy="757.2" rx="5.60" ry="3.23" transform="rotate(60 796.0 757.2)" fill="none" stroke="#000" stroke-width="2.07" />
<ellipse cx="796.8" cy="756.7" rx="3.60" ry="2.08" transform="rotate(60 796.8 756.7)" fill="none" stroke="#000" stroke-width="1.38" />
<line x1="771.5" y1="771.1" x2="788.5" y2="761.2" stroke="#000" stroke-width="1.66" stroke-linecap="butt"/>
<line x1="806.0" y1="731.0" x2="825.0" y2="733.0" stroke="#000" stroke-width="3.59" stroke-linecap="round"/>
<ellipse cx="641.0" cy="846.4" rx="12.20" ry="7.04" transform="rotate(60 641.0 846.4)" fill="none" stroke="#000" stroke-width="2.35" />
<line x1="636.5" y1="849.0" x2="645.5" y2="843.8" stroke="#000" stroke-width="1.38" stroke-linecap="butt"/>
<ellipse cx="659.6" cy="835.7" rx="12.20" ry="7.04" transform="rotate(60 659.6 835.7)" fill="none" stroke="#000" stroke-width="2.35" />
<line x1="655.1" y1="838.3" x2="664.1" y2="833.1" stroke="#000" stroke-width="1.38" stroke-linecap="butt"/>
<ellipse cx="679.6" cy="824.1" rx="12.20" ry="7.04" transform="rotate(60 679.6 824.1)" fill="none" stroke="#000" stroke-width="2.35" />
<line x1="675.1" y1="826.7" x2="684.1" y2="821.5" stroke="#000" stroke-width="1.38" stroke-linecap="butt"/>
<ellipse cx="700.4" cy="812.1" rx="12.20" ry="7.04" transform="rotate(60 700.4 812.1)" fill="none" stroke="#000" stroke-width="2.35" />
<line x1="695.9" y1="814.7" x2="704.9" y2="809.5" stroke="#000" stroke-width="1.38" stroke-linecap="butt"/>
<ellipse cx="720.5" cy="800.5" rx="12.20" ry="7.04" transform="rotate(60 720.5 800.5)" fill="none" stroke="#000" stroke-width="2.35" />
<line x1="716.0" y1="803.1" x2="725.0" y2="797.9" stroke="#000" stroke-width="1.38" stroke-linecap="butt"/>
<line x1="648.5" y1="842.1" x2="652.5" y2="839.8" stroke="#000" stroke-width="1.52" stroke-linecap="butt"/>
<line x1="667.5" y1="831.1" x2="671.5" y2="828.8" stroke="#000" stroke-width="1.52" stroke-linecap="butt"/>
<line x1="687.5" y1="819.6" x2="692.5" y2="816.7" stroke="#000" stroke-width="1.52" stroke-linecap="butt"/>
<line x1="708.0" y1="807.7" x2="712.5" y2="805.1" stroke="#000" stroke-width="1.52" stroke-linecap="butt"/>
<line x1="728.5" y1="795.9" x2="733.0" y2="793.3" stroke="#000" stroke-width="1.52" stroke-linecap="butt"/>
<line x1="826.0" y1="554.5" x2="862.0" y2="533.7" stroke="#000" stroke-width="1.79" stroke-linecap="butt"/>
<line x1="866.0" y1="531.4" x2="900.0" y2="511.8" stroke="#000" stroke-width="1.79" stroke-linecap="butt" stroke-dasharray="30 3 2 3"/>
<line x1="922.0" y1="499.1" x2="996.5" y2="456.1" stroke="#000" stroke-width="1.79" stroke-linecap="butt" stroke-dasharray="30 3 2 3"/>
<line x1="744.0" y1="580.8" x2="816.0" y2="539.3" stroke="#000" stroke-width="1.79" stroke-linecap="butt" stroke-dasharray="30 3 2 3"/>
<line x1="843.0" y1="523.7" x2="931.0" y2="472.9" stroke="#000" stroke-width="1.79" stroke-linecap="butt" stroke-dasharray="30 3 2 3"/>
<line x1="872.0" y1="449.8" x2="913.3" y2="425.9" stroke="#000" stroke-width="1.79" stroke-linecap="butt" stroke-dasharray="12 3 2 3 40 0"/>
<line x1="822.5" y1="478.3" x2="828.0" y2="475.2" stroke="#000" stroke-width="1.66" stroke-linecap="butt"/>
<line x1="843.0" y1="466.5" x2="848.0" y2="463.6" stroke="#000" stroke-width="1.66" stroke-linecap="butt"/>
<line x1="820.0" y1="488.5" x2="850.0" y2="471.2" stroke="#000" stroke-width="1.79" stroke-linecap="butt"/>
<path d="M753.4 564.8 L760.0 563.6 L769.4 587.6 L762.6 590.8 Z" fill="none" stroke="#000" stroke-width="2.07" stroke-linejoin="round" stroke-linecap="round" />
<circle cx="758.8" cy="571.0" r="1.1" fill="#000"/>
<circle cx="765.0" cy="584.2" r="1.1" fill="#000"/>
<path d="M760.0 563.6 Q762.5 565 763.0 569" fill="none" stroke="#000" stroke-width="1.66" stroke-linejoin="round" stroke-linecap="round" />
<path d="M812.0 560.6 L818.6 559.6 L827.2 583.8 L821.4 586.2 Z" fill="none" stroke="#000" stroke-width="2.07" stroke-linejoin="round" stroke-linecap="round" />
<circle cx="817.0" cy="567.5" r="1.0" fill="#000"/>
<circle cx="821.6" cy="579.5" r="1.0" fill="#000"/>
<circle cx="819.4" cy="573.5" r="0.9" fill="#000"/>
<path d="M773.8 526.0 L782.0 525.6 Q790.5 529.5 793.0 534.5 L794.0 541.6 L781.8 538.4 Q776.0 536.6 775.0 534.0 Z" fill="none" stroke="#000" stroke-width="2.07" stroke-linejoin="round" stroke-linecap="round" />
<circle cx="778.8" cy="533.4" r="1.2" fill="#000"/>
<circle cx="787.8" cy="537.0" r="1.2" fill="#000"/>
<path d="M787.5 607.8 L795.0 608.4 Q804.0 612.5 806.6 616.4 L808.2 624.6 L800.0 622.8 L788.0 617.4 Z" fill="none" stroke="#000" stroke-width="2.07" stroke-linejoin="round" stroke-linecap="round" />
<circle cx="791.8" cy="612.6" r="1.2" fill="#000"/>
<circle cx="801.0" cy="616.0" r="1.2" fill="#000"/>
<circle cx="741.3" cy="582.2" r="2.2" fill="none" stroke="#000" stroke-width="1.3"/>
<ellipse cx="831.1" cy="472.6" rx="4.60" ry="2.65" transform="rotate(60 831.1 472.6)" fill="none" stroke="#000" stroke-width="1.93" />
<line x1="832.0" y1="469.8" x2="840.7" y2="464.8" stroke="#000" stroke-width="1.66" stroke-linecap="butt"/>
<line x1="834.0" y1="473.2" x2="842.7" y2="468.2" stroke="#000" stroke-width="1.66" stroke-linecap="butt"/>
<line x1="842.7" y1="468.2" x2="840.7" y2="464.8" stroke="#000" stroke-width="1.66" stroke-linecap="butt"/>
<ellipse cx="810.8" cy="493.8" rx="4.80" ry="2.77" transform="rotate(60 810.8 493.8)" fill="none" stroke="#000" stroke-width="1.93" />
<line x1="811.7" y1="491.0" x2="818.6" y2="487.0" stroke="#000" stroke-width="1.66" stroke-linecap="butt"/>
<line x1="813.7" y1="494.4" x2="820.6" y2="490.4" stroke="#000" stroke-width="1.66" stroke-linecap="butt"/>
<line x1="820.6" y1="490.4" x2="818.6" y2="487.0" stroke="#000" stroke-width="1.66" stroke-linecap="butt"/>
<ellipse cx="831.9" cy="561.7" rx="4.60" ry="2.65" transform="rotate(60 831.9 561.7)" fill="none" stroke="#000" stroke-width="1.93" />
<line x1="832.8" y1="558.9" x2="839.7" y2="554.9" stroke="#000" stroke-width="1.66" stroke-linecap="butt"/>
<line x1="834.8" y1="562.3" x2="841.7" y2="558.3" stroke="#000" stroke-width="1.66" stroke-linecap="butt"/>
<line x1="841.7" y1="558.3" x2="839.7" y2="554.9" stroke="#000" stroke-width="1.66" stroke-linecap="butt"/>
<ellipse cx="854.2" cy="564.8" rx="4.60" ry="2.65" transform="rotate(60 854.2 564.8)" fill="none" stroke="#000" stroke-width="1.93" />
<line x1="855.1" y1="562.0" x2="863.3" y2="557.2" stroke="#000" stroke-width="1.66" stroke-linecap="butt"/>
<line x1="857.1" y1="565.4" x2="865.3" y2="560.7" stroke="#000" stroke-width="1.66" stroke-linecap="butt"/>
<line x1="865.3" y1="560.7" x2="863.3" y2="557.2" stroke="#000" stroke-width="1.66" stroke-linecap="butt"/>
<path d="M846.9 454.7 L855.0 449.6 Q858.5 449.2 863.1 453.2 L870.2 457.8 L871.3 470.5 L866.2 474.0 L855.0 469.5 L847.9 464.4 Z" fill="none" stroke="#000" stroke-width="2.76" stroke-linejoin="round" stroke-linecap="round" />
<path d="M846.9 454.7 L853.0 458.8 L866.0 462.2 L870.2 457.8 M853.0 458.8 L853.6 467.8 M866.0 462.2 L866.2 474.0" fill="none" stroke="#000" stroke-width="1.93" stroke-linejoin="round" stroke-linecap="round" />
<circle cx="850.9" cy="460.8" r="1.4" fill="#000"/>
<circle cx="860.1" cy="464.9" r="1.4" fill="#000"/>
<path d="M870.2 457.8 Q876.0 455.6 881.0 458.4 Q890.8 465.0 891.8 478.0 L891.6 489.0 Q893.0 500.5 899.0 505.2 L904.0 507.4" fill="none" stroke="#000" stroke-width="2.07" stroke-linejoin="round" stroke-linecap="round" />
<path d="M871.3 472.3 L880.4 468.0 Q884.6 467.2 885.8 473.5 L887.6 487.7 Q889.0 496.5 892.5 501.2 Q895.5 505.6 902.0 507.6" fill="none" stroke="#000" stroke-width="4.97" stroke-linejoin="round" stroke-linecap="round" />
<path d="M866.2 474.5 L866.2 494.8 Q865.5 501.0 860.0 504.4 Q853.0 507.5 843.0 510.4" fill="none" stroke="#000" stroke-width="2.07" stroke-linejoin="round" stroke-linecap="round" />
<circle cx="870.7" cy="481.1" r="2.0" fill="none" stroke="#000" stroke-width="1.3"/>
<circle cx="879.9" cy="484.2" r="2.2" fill="none" stroke="#000" stroke-width="1.3"/>
<circle cx="877.9" cy="493.3" r="1.5" fill="#000"/>
<path d="M818.0 520.4 L843.0 510.4 L858.5 505.0" fill="none" stroke="#000" stroke-width="4.14" stroke-linejoin="round" stroke-linecap="round" />
<path d="M816.6 522.0 L818.0 520.4 M814.6 527.0 Q813.4 523.2 816.6 522.0 L823.5 520.6 M814.6 527.0 L816.4 535.0 Q818.0 538.5 820.0 541.0 L823.0 548.0 Q825.5 551.5 829.0 550.6" fill="none" stroke="#000" stroke-width="2.07" stroke-linejoin="round" stroke-linecap="round" />
<ellipse cx="817.9" cy="530.9" rx="3.90" ry="2.25" transform="rotate(60 817.9 530.9)" fill="none" stroke="#000" stroke-width="2.07" />
<ellipse cx="824.2" cy="544.6" rx="4.10" ry="2.37" transform="rotate(60 824.2 544.6)" fill="none" stroke="#000" stroke-width="2.07" />
<path d="M823.5 520.6 L829.8 545.6 M830.0 518.4 L836.5 543.0 M838.6 513.4 L846.0 538.4 M841.4 512.4 L849.0 537.4" fill="none" stroke="#000" stroke-width="1.93" stroke-linejoin="round" stroke-linecap="round" />
<path d="M826.0 530.0 L836.0 526.0 M829.0 550.6 L836.0 548.4" fill="none" stroke="#000" stroke-width="1.79" stroke-linejoin="round" stroke-linecap="round" />
<path d="M831.0 548.6 L849.0 540.5 L862.0 536.0" fill="none" stroke="#000" stroke-width="4.69" stroke-linejoin="round" stroke-linecap="round" />
<ellipse cx="857.0" cy="530.4" rx="2.60" ry="1.50" transform="rotate(60 857.0 530.4)" fill="none" stroke="#000" stroke-width="2.07" />
<path d="M862.0 536.0 Q868.4 536.0 872.6 541.0 Q876.6 546.0 877.6 551.5" fill="none" stroke="#000" stroke-width="2.07" stroke-linejoin="round" stroke-linecap="round" />
<line x1="841.0" y1="557.2" x2="866.0" y2="543.5" stroke="#000" stroke-width="1.66" stroke-linecap="butt"/>
<ellipse cx="882.7" cy="521.0" rx="7.90" ry="4.90" transform="rotate(60 882.7 521.0)" fill="none" stroke="#000" stroke-width="3.04" />
<line x1="861.0" y1="533.4" x2="876.8" y2="525.0" stroke="#000" stroke-width="1.79" stroke-linecap="butt"/>
<line x1="885.5" y1="515.4" x2="903.0" y2="507.6" stroke="#000" stroke-width="1.79" stroke-linecap="butt"/>
<line x1="888.8" y1="524.6" x2="906.9" y2="517.2" stroke="#000" stroke-width="1.79" stroke-linecap="butt"/>
<line x1="877.3" y1="535.5" x2="903.8" y2="521.3" stroke="#000" stroke-width="1.66" stroke-linecap="butt" stroke-dasharray="14 3 2 3"/>
<path d="M903.8 506.6 L921.1 499.4" fill="none" stroke="#000" stroke-width="4.69" stroke-linejoin="round" stroke-linecap="round" />
<path d="M902.8 508.4 L904.8 509.5 L910.9 530.8 L909.9 531.8 Q913.0 536.6 917.0 536.9 L926.2 533.8 Q932.5 530.5 934.3 527.7 Q933.6 525.6 931.2 526.2 L925.2 528.8" fill="none" stroke="#000" stroke-width="2.21" stroke-linejoin="round" stroke-linecap="round" />
<path d="M913.0 507.4 L921.1 528.8 M917.0 505.4 L925.2 527.7 M910.9 530.8 L921.1 528.8 L925.2 527.7" fill="none" stroke="#000" stroke-width="2.48" stroke-linejoin="round" stroke-linecap="round" />
<path d="M902.8 508.4 Q901.0 512.0 903.0 517.0 L907.5 530.0 Q908.5 532.0 909.9 531.8" fill="none" stroke="#000" stroke-width="1.93" stroke-linejoin="round" stroke-linecap="round" />
<circle cx="909.4" cy="516.6" r="1.5" fill="#000"/>
<circle cx="915.0" cy="529.8" r="1.4" fill="#000"/>
<path d="M910.9 532.4 Q902.0 536.6 900.2 543.0 Q898.6 549.0 898.8 555.2" fill="none" stroke="#000" stroke-width="2.21" stroke-linejoin="round" stroke-linecap="round" />
<path d="M898.8 553.0 L899.8 569.4 Q900.6 574.0 902.6 577.5 Q902.8 581.0 900.8 583.6 Q898.0 586.6 893.7 588.7" fill="none" stroke="#000" stroke-width="4.97" stroke-linejoin="round" stroke-linecap="round" />
<path d="M902.8 555.2 Q907.4 562.0 908.6 572.0 Q909.6 583.0 904.8 594.8 Q900.5 600.0 893.7 601.9 L883.5 603.9" fill="none" stroke="#000" stroke-width="2.07" stroke-linejoin="round" stroke-linecap="round" />
<path d="M877.4 550.0 L879.5 561.3 L882.5 571.4" fill="none" stroke="#000" stroke-width="2.07" stroke-linejoin="round" stroke-linecap="round" />
<circle cx="887.6" cy="549.0" r="1.7" fill="none" stroke="#000" stroke-width="1.2"/>
<circle cx="883.5" cy="559.7" r="1.9" fill="none" stroke="#000" stroke-width="1.2"/>
<circle cx="893.2" cy="562.8" r="1.9" fill="none" stroke="#000" stroke-width="1.2"/>
<path d="M882.5 571.4 L898.8 577.5 M882.5 571.4 L870.3 580.5 L887.6 588.7 L897.0 580.0 M870.3 580.5 Q868.4 584.0 868.8 587.7 L870.3 596.8 Q871.6 600.2 874.4 601.9 L883.5 603.9 Q889.0 603.6 893.7 600.9 L893.7 588.7" fill="none" stroke="#000" stroke-width="2.35" stroke-linejoin="round" stroke-linecap="round" />
<path d="M871.3 585.6 L887.6 590.7 L893.7 588.7 M887.6 590.7 L889.0 603.4 M880.0 588.4 L881.5 593.0" fill="none" stroke="#000" stroke-width="1.93" stroke-linejoin="round" stroke-linecap="round" />
<ellipse cx="872.9" cy="595.8" rx="3.90" ry="2.25" transform="rotate(60 872.9 595.8)" fill="none" stroke="#000" stroke-width="2.07" />
<ellipse cx="882.5" cy="598.8" rx="3.90" ry="2.25" transform="rotate(60 882.5 598.8)" fill="none" stroke="#000" stroke-width="2.07" />
<circle cx="892.4" cy="438.2" r="3.7" fill="#000"/>
<circle cx="913.2" cy="426.3" r="4.1" fill="#000"/>
<circle cx="917.1" cy="480.9" r="2.5" fill="#000"/>
<circle cx="931.1" cy="472.1" r="2.5" fill="#000"/>
<circle cx="977.2" cy="436.9" r="2.4" fill="none" stroke="#000" stroke-width="1.3"/>
<line x1="979.4" y1="435.6" x2="995.0" y2="426.4" stroke="#000" stroke-width="1.93" stroke-linecap="butt"/>
<path d="M994.4 417.6 L1004 416.0 L1004 424.0 L996.0 425.0 Q993.6 421.5 994.4 417.6 Z" fill="#000" stroke="#000" stroke-width="1.66" stroke-linejoin="round" stroke-linecap="round" />
<path d="M995.6 424.0 Q995.6 446.0 1002.6 461.0" fill="none" stroke="#000" stroke-width="1.93" stroke-linejoin="round" stroke-linecap="round" />
<path d="M1001.0 444.0 Q999.4 449.0 1001.6 454.0" fill="none" stroke="#000" stroke-width="3.59" stroke-linejoin="round" stroke-linecap="round" />
<ellipse cx="931.3" cy="503.9" rx="3.0" ry="4.8" transform="rotate(-28 931.3 503.9)" fill="#000"/>
<circle cx="947.4" cy="495.2" r="4.4" fill="#000"/>
<circle cx="949.1" cy="510.0" r="4.1" fill="#000"/>
<circle cx="965.8" cy="500.3" r="4.4" fill="#000"/>
<line x1="919.5" y1="509.4" x2="928.4" y2="505.2" stroke="#000" stroke-width="1.79" stroke-linecap="butt"/>
<line x1="934.3" y1="502.6" x2="943.4" y2="497.6" stroke="#000" stroke-width="1.79" stroke-linecap="butt"/>
<line x1="929.2" y1="520.6" x2="933.5" y2="518.2" stroke="#000" stroke-width="1.66" stroke-linecap="butt"/>
<line x1="937.8" y1="515.8" x2="945.5" y2="511.8" stroke="#000" stroke-width="1.79" stroke-linecap="butt"/>
<line x1="952.6" y1="507.6" x2="961.7" y2="502.8" stroke="#000" stroke-width="1.79" stroke-linecap="butt"/>
<text transform="translate(370.2 757.3) scale(0.85 1)" x="0" y="5.9" font-size="16.4" text-anchor="middle" fill="#000" stroke="#000" stroke-width="0.62" >1</text>
<line x1="373.3" y1="769.8" x2="388.4" y2="800.0" stroke="#000" stroke-width="1.79" stroke-linecap="butt"/>
<polygon points="387.6,798.5 382.8,792.5 385.8,791.0" fill="#000" stroke="#000" stroke-width="0.4"/>
<text transform="translate(401.4 741.0) scale(0.85 1)" x="0" y="5.9" font-size="16.4" text-anchor="middle" fill="#000" stroke="#000" stroke-width="0.62" >2</text>
<line x1="404.5" y1="750.3" x2="421.7" y2="775.3" stroke="#000" stroke-width="1.79" stroke-linecap="butt"/>
<polygon points="420.8,774.0 415.2,768.8 418.0,766.9" fill="#000" stroke="#000" stroke-width="0.4"/>
<text transform="translate(432.2 725.3) scale(0.85 1)" x="0" y="5.9" font-size="16.4" text-anchor="middle" fill="#000" stroke="#000" stroke-width="0.62" >3</text>
<line x1="436.6" y1="735.5" x2="451.4" y2="754.2" stroke="#000" stroke-width="1.79" stroke-linecap="butt"/>
<polygon points="450.7,753.3 444.7,748.4 447.3,746.3" fill="#000" stroke="#000" stroke-width="0.4"/>
<text transform="translate(460.0 709.0) scale(0.85 1)" x="0" y="5.9" font-size="16.4" text-anchor="middle" fill="#000" stroke="#000" stroke-width="0.62" >4</text>
<line x1="462.3" y1="720.6" x2="474.8" y2="742.5" stroke="#000" stroke-width="1.79" stroke-linecap="butt"/>
<polygon points="474.2,741.4 469.0,735.7 471.9,734.0" fill="#000" stroke="#000" stroke-width="0.4"/>
<text transform="translate(483.4 700.3) scale(0.85 1)" x="0" y="5.9" font-size="16.4" text-anchor="middle" fill="#000" stroke="#000" stroke-width="0.62" >5</text>
<line x1="486.6" y1="708.9" x2="499.0" y2="728.4" stroke="#000" stroke-width="1.79" stroke-linecap="butt"/>
<polygon points="498.4,727.4 492.9,722.0 495.8,720.2" fill="#000" stroke="#000" stroke-width="0.4"/>
<text transform="translate(523.0 470.0) scale(0.85 1)" x="0" y="5.9" font-size="16.4" text-anchor="middle" fill="#000" stroke="#000" stroke-width="0.62" >6</text>
<line x1="534.4" y1="480.5" x2="555.0" y2="511.0" stroke="#000" stroke-width="1.79" stroke-linecap="butt"/>
<polygon points="554.0,509.5 548.4,504.2 551.2,502.3" fill="#000" stroke="#000" stroke-width="0.4"/>
<text transform="translate(589.0 443.4) scale(0.85 1)" x="0" y="5.9" font-size="16.4" text-anchor="middle" fill="#000" stroke="#000" stroke-width="0.62" >7</text>
<line x1="599.4" y1="454.0" x2="619.5" y2="493.8" stroke="#000" stroke-width="1.79" stroke-linecap="butt"/>
<polygon points="618.5,491.8 613.6,485.9 616.6,484.3" fill="#000" stroke="#000" stroke-width="0.4"/>
<text transform="translate(630.5 423.4) scale(0.85 1)" x="0" y="5.9" font-size="16.4" text-anchor="middle" fill="#000" stroke="#000" stroke-width="0.62" >8</text>
<line x1="640.6" y1="434.4" x2="664.8" y2="471.9" stroke="#000" stroke-width="1.79" stroke-linecap="butt"/>
<polygon points="661.2,466.3 655.7,460.9 658.5,459.1" fill="#000" stroke="#000" stroke-width="0.4"/>
<text transform="translate(475.6 582.8) scale(0.85 1)" x="0" y="5.9" font-size="16.4" text-anchor="middle" fill="#000" stroke="#000" stroke-width="0.62" >31</text>
<line x1="483.4" y1="594.4" x2="527.2" y2="633.4" stroke="#000" stroke-width="1.79" stroke-linecap="butt"/>
<polygon points="525.9,632.2 519.2,628.5 521.4,626.0" fill="#000" stroke="#000" stroke-width="0.4"/>
<text transform="translate(522.2 661.9) scale(0.85 1)" x="0" y="5.9" font-size="16.4" text-anchor="middle" fill="#000" stroke="#000" stroke-width="0.62" >27</text>
<line x1="534.4" y1="673.6" x2="548.0" y2="692.3" stroke="#000" stroke-width="1.79" stroke-linecap="butt"/>
<polygon points="546.6,690.4 540.9,685.4 543.6,683.4" fill="#000" stroke="#000" stroke-width="0.4"/>
<text transform="translate(558.5 639.6) scale(0.85 1)" x="0" y="5.9" font-size="16.4" text-anchor="middle" fill="#000" stroke="#000" stroke-width="0.62" >28</text>
<line x1="570.2" y1="652.5" x2="586.6" y2="671.3" stroke="#000" stroke-width="1.79" stroke-linecap="butt"/>
<polygon points="585.8,670.4 579.6,665.8 582.1,663.6" fill="#000" stroke="#000" stroke-width="0.4"/>
<text transform="translate(672.6 571.6) scale(0.85 1)" x="0" y="5.9" font-size="16.4" text-anchor="middle" fill="#000" stroke="#000" stroke-width="0.62" >27</text>
<line x1="684.4" y1="582.2" x2="699.1" y2="604.5" stroke="#000" stroke-width="1.79" stroke-linecap="butt"/>
<polygon points="698.4,603.4 692.8,598.1 695.7,596.2" fill="#000" stroke="#000" stroke-width="0.4"/>
<text transform="translate(718.3 543.0) scale(0.85 1)" x="0" y="5.9" font-size="16.4" text-anchor="middle" fill="#000" stroke="#000" stroke-width="0.62" >12</text>
<line x1="721.9" y1="553.9" x2="740.2" y2="580.5" stroke="#000" stroke-width="1.79" stroke-linecap="butt"/>
<polygon points="738.4,577.8 732.7,572.6 735.5,570.7" fill="#000" stroke="#000" stroke-width="0.4"/>
<text transform="translate(784.4 662.5) scale(0.85 1)" x="0" y="5.9" font-size="16.4" text-anchor="middle" fill="#000" stroke="#000" stroke-width="0.62" >11</text>
<line x1="783.4" y1="646.9" x2="796.4" y2="625.0" stroke="#000" stroke-width="1.79" stroke-linecap="butt"/>
<polygon points="793.8,629.4 791.4,636.7 788.5,635.0" fill="#000" stroke="#000" stroke-width="0.4"/>
<text transform="translate(830.3 614.8) scale(0.85 1)" x="0" y="5.9" font-size="16.4" text-anchor="middle" fill="#000" stroke="#000" stroke-width="0.62" >15</text>
<line x1="829.7" y1="603.9" x2="833.1" y2="567.2" stroke="#000" stroke-width="1.79" stroke-linecap="butt"/>
<polygon points="832.6,572.7 833.6,580.3 830.2,580.0" fill="#000" stroke="#000" stroke-width="0.4"/>
<text transform="translate(785.8 499.5) scale(0.85 1)" x="0" y="5.9" font-size="16.4" text-anchor="middle" fill="#000" stroke="#000" stroke-width="0.62" >10</text>
<line x1="796.0" y1="504.0" x2="817.0" y2="521.0" stroke="#000" stroke-width="1.79" stroke-linecap="butt"/>
<polygon points="816.0,520.1 809.1,516.8 811.2,514.1" fill="#000" stroke="#000" stroke-width="0.4"/>
<text transform="translate(804.5 436.0) scale(0.85 1)" x="0" y="5.9" font-size="16.4" text-anchor="middle" fill="#000" stroke="#000" stroke-width="0.62" >15</text>
<line x1="805.3" y1="444.0" x2="829.5" y2="470.6" stroke="#000" stroke-width="1.79" stroke-linecap="butt"/>
<polygon points="823.5,464.0 817.1,459.5 819.7,457.3" fill="#000" stroke="#000" stroke-width="0.4"/>
<line x1="805.3" y1="444.0" x2="806.9" y2="487.8" stroke="#000" stroke-width="1.79" stroke-linecap="butt"/>
<polygon points="806.5,475.5 804.5,468.1 807.9,468.0" fill="#000" stroke="#000" stroke-width="0.4"/>
<text transform="translate(869.4 403.4) scale(0.85 1)" x="0" y="5.9" font-size="16.4" text-anchor="middle" fill="#000" stroke="#000" stroke-width="0.62" >16</text>
<line x1="872.5" y1="412.0" x2="891.3" y2="437.0" stroke="#000" stroke-width="1.79" stroke-linecap="butt"/>
<polygon points="889.4,434.5 883.6,429.5 886.3,427.5" fill="#000" stroke="#000" stroke-width="0.4"/>
<text transform="translate(895.0 392.0) scale(0.85 1)" x="0" y="5.9" font-size="16.4" text-anchor="middle" fill="#000" stroke="#000" stroke-width="0.62" >17</text>
<line x1="899.8" y1="401.0" x2="912.3" y2="424.5" stroke="#000" stroke-width="1.79" stroke-linecap="butt"/>
<polygon points="911.0,422.1 906.0,416.3 909.0,414.7" fill="#000" stroke="#000" stroke-width="0.4"/>
<text transform="translate(920.0 442.0) scale(0.85 1)" x="0" y="5.9" font-size="16.4" text-anchor="middle" fill="#000" stroke="#000" stroke-width="0.62" >13</text>
<line x1="918.6" y1="450.3" x2="917.0" y2="480.0" stroke="#000" stroke-width="1.79" stroke-linecap="butt"/>
<polygon points="917.2,475.5 915.9,468.0 919.3,468.1" fill="#000" stroke="#000" stroke-width="0.4"/>
<text transform="translate(944.4 433.0) scale(0.85 1)" x="0" y="5.9" font-size="16.4" text-anchor="middle" fill="#000" stroke="#000" stroke-width="0.62" >14</text>
<line x1="942.8" y1="442.5" x2="931.9" y2="471.4" stroke="#000" stroke-width="1.79" stroke-linecap="butt"/>
<polygon points="933.5,467.1 934.6,459.4 937.8,460.6" fill="#000" stroke="#000" stroke-width="0.4"/>
<text transform="translate(960.2 393.0) scale(0.85 1)" x="0" y="5.9" font-size="16.4" text-anchor="middle" fill="#000" stroke="#000" stroke-width="0.62" >12</text>
<line x1="964.1" y1="404.4" x2="975.6" y2="434.6" stroke="#000" stroke-width="1.79" stroke-linecap="butt"/>
<polygon points="974.5,431.6 970.2,425.2 973.4,424.0" fill="#000" stroke="#000" stroke-width="0.4"/>
<text transform="translate(981.5 381.0) scale(0.85 1)" x="0" y="5.9" font-size="16.4" text-anchor="middle" fill="#000" stroke="#000" stroke-width="0.62" >18</text>
<line x1="984.6" y1="389.8" x2="997.0" y2="414.8" stroke="#000" stroke-width="1.79" stroke-linecap="butt"/>
<polygon points="996.0,412.8 991.2,406.8 994.2,405.3" fill="#000" stroke="#000" stroke-width="0.4"/>
<text transform="translate(986.0 536.0) scale(0.85 1)" x="0" y="5.9" font-size="16.4" text-anchor="middle" fill="#000" stroke="#000" stroke-width="0.62" >17</text>
<line x1="985.4" y1="527.0" x2="950.0" y2="497.0" stroke="#000" stroke-width="1.79" stroke-linecap="butt"/>
<polygon points="959.9,505.4 966.7,509.0 964.5,511.5" fill="#000" stroke="#000" stroke-width="0.4"/>
<line x1="985.4" y1="527.0" x2="967.8" y2="503.0" stroke="#000" stroke-width="1.79" stroke-linecap="butt"/>
<polygon points="973.1,510.2 978.9,515.2 976.1,517.3" fill="#000" stroke="#000" stroke-width="0.4"/>
<text transform="translate(959.6 546.0) scale(0.85 1)" x="0" y="5.9" font-size="16.4" text-anchor="middle" fill="#000" stroke="#000" stroke-width="0.62" >16</text>
<line x1="960.5" y1="536.5" x2="932.7" y2="506.6" stroke="#000" stroke-width="1.79" stroke-linecap="butt"/>
<polygon points="940.5,515.0 946.8,519.3 944.3,521.6" fill="#000" stroke="#000" stroke-width="0.4"/>
<line x1="960.5" y1="536.5" x2="950.0" y2="512.5" stroke="#000" stroke-width="1.79" stroke-linecap="butt"/>
<polygon points="953.1,519.7 957.7,525.9 954.6,527.3" fill="#000" stroke="#000" stroke-width="0.4"/>
<text transform="translate(789.3 840.1) scale(0.85 1)" x="0" y="5.9" font-size="16.4" text-anchor="middle" fill="#000" stroke="#000" stroke-width="0.62" >6</text>
<line x1="785.9" y1="831.5" x2="769.5" y2="806.6" stroke="#000" stroke-width="1.79" stroke-linecap="butt"/>
<polygon points="770.3,807.8 775.9,813.2 773.0,815.0" fill="#000" stroke="#000" stroke-width="0.4"/>
<text transform="translate(823.7 816.0) scale(0.85 1)" x="0" y="5.9" font-size="16.4" text-anchor="middle" fill="#000" stroke="#000" stroke-width="0.62" >7</text>
<line x1="822.0" y1="804.0" x2="805.6" y2="766.2" stroke="#000" stroke-width="1.79" stroke-linecap="butt"/>
<polygon points="806.7,768.8 811.3,775.0 808.2,776.4" fill="#000" stroke="#000" stroke-width="0.4"/>
<text transform="translate(846.0 793.5) scale(0.85 1)" x="0" y="5.9" font-size="16.4" text-anchor="middle" fill="#000" stroke="#000" stroke-width="0.62" >8</text>
<line x1="840.5" y1="777.0" x2="820.2" y2="734.4" stroke="#000" stroke-width="1.79" stroke-linecap="butt"/>
<polygon points="838.5,772.7 843.2,778.8 840.2,780.2" fill="#000" stroke="#000" stroke-width="0.4"/>
<text transform="translate(732.6 862.4) scale(0.85 1)" x="0" y="5.9" font-size="16.4" text-anchor="middle" fill="#000" stroke="#000" stroke-width="0.62" >9</text>
<line x1="725.7" y1="853.0" x2="726.6" y2="810.0" stroke="#000" stroke-width="1.79" stroke-linecap="butt"/>
<polygon points="726.3,822.0 727.9,829.6 724.5,829.5" fill="#000" stroke="#000" stroke-width="0.4"/>
<line x1="725.7" y1="853.0" x2="705.0" y2="820.3" stroke="#000" stroke-width="1.79" stroke-linecap="butt"/>
<polygon points="711.2,830.1 716.7,835.5 713.8,837.4" fill="#000" stroke="#000" stroke-width="0.4"/>
<line x1="725.7" y1="853.0" x2="686.2" y2="833.2" stroke="#000" stroke-width="1.79" stroke-linecap="butt"/>
<polygon points="698.1,839.1 705.5,841.0 704.0,844.0" fill="#000" stroke="#000" stroke-width="0.4"/>
<line x1="725.7" y1="853.0" x2="666.4" y2="846.1" stroke="#000" stroke-width="1.79" stroke-linecap="butt"/>
<polygon points="684.2,848.2 691.8,847.3 691.4,850.7" fill="#000" stroke="#000" stroke-width="0.4"/>
<line x1="725.7" y1="853.0" x2="648.4" y2="855.5" stroke="#000" stroke-width="1.79" stroke-linecap="butt"/>
<polygon points="670.0,854.8 677.5,852.9 677.6,856.3" fill="#000" stroke="#000" stroke-width="0.4"/>
<text transform="translate(994.0 368.6) scale(0.85 1)" x="0" y="5.9" font-size="16.4" text-anchor="start" fill="#000" stroke="#000" stroke-width="0.62" >19</text>
<rect x="595.5" y="743.4" width="14.6" height="9.9" fill="#e8848e" stroke="#3d24a2" stroke-width="1.3"/>
<line x1="595.8" y1="754.8" x2="602.6" y2="754.8" stroke="#000" stroke-width="1.38" stroke-linecap="butt"/>
<text transform="translate(604.2 748.5) scale(0.85 1)" x="0" y="4.8" font-size="13.5" text-anchor="middle" fill="#8a0c16" stroke="#8a0c16" stroke-width="0.55" >29</text>
<line x1="616.0" y1="738.0" x2="642.9" y2="700.5" stroke="#000" stroke-width="1.79" stroke-linecap="butt"/>
<polygon points="640.7,703.5 637.8,710.6 635.0,708.6" fill="#000" stroke="#000" stroke-width="0.4"/>
<g transform="translate(599.2 752.6) scale(1.22)" fill="#fff" stroke="#222" stroke-width="1" stroke-linejoin="round"><path d="M4.2 11.5 L4.2 1.8 Q4.2 0.5 5.4 0.5 Q6.6 0.5 6.6 1.8 L6.6 7.2 Q6.8 6.2 7.9 6.2 Q9 6.3 9.1 7.6 Q9.4 6.8 10.4 6.9 Q11.5 7 11.6 8.3 Q12 7.7 12.9 7.9 Q13.9 8.2 13.9 9.5 L13.9 14.5 Q13.9 18 12.6 20 L6.2 20 Q4.8 17.8 1.6 14.2 Q0.6 13 1.5 12.2 Q2.5 11.5 4.2 13.3 Z"/></g>

<g opacity="0.27" transform="translate(476 545) rotate(41.5)" font-size="87" fill="#000">
<text x="0 51.5 119 143" y="0">Agro</text>
</g>
<g opacity="0.45" fill="#4fb883">
<path d="M676 657 Q700 654 720 660.5 Q700 662 684 668.5 Z"/>
<path d="M690 676 Q720 669.5 752 676 Q722 679 696 692 Q682 699 666 701 Q680 690 690 676 Z"/>
<path d="M648.5 640 Q646 668 660 686 Q672 698 690 690 Q700 684 702 678 Q686 688 674 682 Q660 672 656 642 Z"/>
</g>
<g opacity="0.29" transform="translate(683 722) rotate(38)" font-family="'Liberation Serif', serif" font-weight="bold" font-size="118" fill="#e3274f">
<text x="0 59.4 110.2" y="0 -2 -3.6">est</text>
</g>

</svg>
</div>
</body></html>
